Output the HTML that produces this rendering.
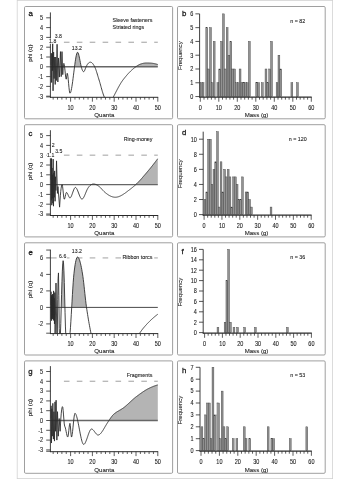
<!DOCTYPE html>
<html lang="en">
<head>
<meta charset="utf-8">
<title>Quantograms and mass histograms</title>
<style>
html,body{margin:0;padding:0;background:#fff;}
body{width:350px;height:480px;overflow:hidden;}
svg text{font-family:"Liberation Sans", Arial, sans-serif;}
</style>
</head>
<body>
<svg width="350" height="480" viewBox="0 0 350 480" font-family='"Liberation Sans", Arial, sans-serif' style="display:block">
<rect x="17.2" y="0.4" width="315.4" height="478.2" fill="#fefefe" stroke="#d2d2d2" stroke-width="0.8"/>
<rect x="24.5" y="6.5" width="148.1" height="112.3" rx="1.2" fill="#fff" stroke="#949494" stroke-width="0.9"/>
<rect x="177.5" y="6.5" width="147.7" height="112.3" rx="1.2" fill="#fff" stroke="#949494" stroke-width="0.9"/>
<rect x="24.5" y="124.7" width="148.1" height="112.2" rx="1.2" fill="#fff" stroke="#949494" stroke-width="0.9"/>
<rect x="177.5" y="124.7" width="147.7" height="112.2" rx="1.2" fill="#fff" stroke="#949494" stroke-width="0.9"/>
<rect x="24.5" y="242.8" width="148.1" height="112.2" rx="1.2" fill="#fff" stroke="#949494" stroke-width="0.9"/>
<rect x="177.5" y="242.8" width="147.7" height="112.2" rx="1.2" fill="#fff" stroke="#949494" stroke-width="0.9"/>
<rect x="24.5" y="360.9" width="148.1" height="112.4" rx="1.2" fill="#fff" stroke="#949494" stroke-width="0.9"/>
<rect x="177.5" y="360.9" width="147.7" height="112.4" rx="1.2" fill="#fff" stroke="#949494" stroke-width="0.9"/>
<clipPath id="clipa"><rect x="50.4" y="6.5" width="107.8" height="90.8"/></clipPath>
<line x1="63.9" y1="42.3" x2="69.5" y2="42.3" stroke="#b9b9b9" stroke-width="1.35"/>
<line x1="76.8" y1="42.3" x2="82.4" y2="42.3" stroke="#b9b9b9" stroke-width="1.35"/>
<line x1="89.7" y1="42.3" x2="95.3" y2="42.3" stroke="#b9b9b9" stroke-width="1.35"/>
<line x1="102.6" y1="42.3" x2="108.2" y2="42.3" stroke="#b9b9b9" stroke-width="1.35"/>
<line x1="115.5" y1="42.3" x2="121.1" y2="42.3" stroke="#b9b9b9" stroke-width="1.35"/>
<line x1="128.4" y1="42.3" x2="134" y2="42.3" stroke="#b9b9b9" stroke-width="1.35"/>
<line x1="141.3" y1="42.3" x2="146.9" y2="42.3" stroke="#b9b9b9" stroke-width="1.35"/>
<line x1="154.2" y1="42.3" x2="157.8" y2="42.3" stroke="#b9b9b9" stroke-width="1.35"/>
<path d="M74.86 66.8 L74.86 64.23 L75.23 61.59 L75.6 59.18 L75.96 57.04 L76.33 55.23 L76.7 53.81 L77.06 52.83 L77.43 52.34 L77.8 52.4 L78.17 52.97 L78.53 53.97 L78.9 55.33 L79.27 56.94 L79.63 58.74 L80 60.63 L80.37 62.54 L80.73 64.38 L81.1 66.05 L81.1 66.8 Z" fill="#b4b4b4" stroke="none" clip-path="url(#clipa)"/>
<path d="M136.15 66.8 L136.15 66.54 L136.52 66.29 L136.88 66.04 L137.25 65.79 L137.62 65.56 L137.98 65.33 L138.35 65.11 L138.72 64.91 L139.08 64.71 L139.45 64.53 L139.82 64.37 L140.18 64.22 L140.55 64.09 L140.92 63.96 L141.29 63.84 L141.65 63.73 L142.02 63.63 L142.39 63.53 L142.75 63.44 L143.12 63.36 L143.49 63.29 L143.85 63.22 L144.22 63.16 L144.59 63.11 L144.96 63.07 L145.32 63.03 L145.69 63.01 L146.06 62.99 L146.42 62.98 L146.79 62.98 L147.16 62.98 L147.52 62.98 L147.89 62.99 L148.26 63 L148.63 63.01 L148.99 63.02 L149.36 63.04 L149.73 63.05 L150.09 63.08 L150.46 63.1 L150.83 63.13 L151.19 63.16 L151.56 63.2 L151.93 63.24 L152.3 63.28 L152.66 63.33 L153.03 63.38 L153.4 63.44 L153.76 63.5 L154.13 63.57 L154.5 63.64 L154.86 63.72 L155.23 63.8 L155.6 63.89 L155.97 63.98 L156.33 64.08 L156.7 64.19 L157.07 64.3 L157.43 64.42 L157.8 64.55 L157.8 66.8 Z" fill="#b4b4b4" stroke="none" clip-path="url(#clipa)"/>
<line x1="50.4" y1="66.8" x2="157.8" y2="66.8" stroke="#666666" stroke-width="1.45"/>
<path d="M50.87 64.84 L51.2 53.08 L51.63 82.48 L52.07 54.06 L52.33 70.72 L52.68 43.28 L53.05 90.81 L53.6 52.1 L54.14 78.56 L54.69 57 L55.23 84.44 L55.78 57 L56.32 80.52 L57.08 44.26 L57.85 81.99 L58.5 57.98 L58.94 66.8 L59.37 77.09 L60.46 51.61 L61.23 76.6 L61.99 51.61 L62.75 74.64 L62.75 74.64 L63.12 68.62 L63.49 64.71 L63.85 63.37 L64.22 64.3 L64.59 66.69 L64.95 70.09 L65.32 73.86 L65.69 77.18 L66.05 79.24 L66.42 78.96 L66.79 75.79 L67.16 73.25 L67.52 73.85 L67.89 76.21 L68.26 79.67 L68.62 83.66 L68.99 87.58 L69.36 90.85 L69.72 92.88 L70.09 93.22 L70.46 92.74 L70.83 91.77 L71.19 90.36 L71.56 88.58 L71.93 86.47 L72.29 84.08 L72.66 81.48 L73.03 78.7 L73.39 75.82 L73.76 72.88 L74.13 69.93 L74.5 67.02 L74.86 64.23 L75.23 61.59 L75.6 59.18 L75.96 57.04 L76.33 55.23 L76.7 53.81 L77.06 52.83 L77.43 52.34 L77.8 52.4 L78.17 52.97 L78.53 53.97 L78.9 55.33 L79.27 56.94 L79.63 58.74 L80 60.63 L80.37 62.54 L80.73 64.38 L81.1 66.05 L81.47 67.51 L81.83 68.75 L82.2 69.79 L82.57 70.61 L82.94 71.2 L83.3 71.57 L83.67 71.7 L84.04 71.5 L84.4 70.96 L84.77 70.16 L85.14 69.22 L85.5 68.22 L85.87 67.27 L86.24 66.46 L86.61 65.74 L86.97 65.08 L87.34 64.49 L87.71 63.97 L88.07 63.52 L88.44 63.14 L88.81 62.82 L89.17 62.57 L89.54 62.38 L89.91 62.26 L90.28 62.2 L90.64 62.21 L91.01 62.29 L91.38 62.45 L91.74 62.68 L92.11 62.98 L92.48 63.34 L92.84 63.77 L93.21 64.27 L93.58 64.82 L93.95 65.42 L94.31 66.08 L94.68 66.78 L95.05 67.56 L95.41 68.45 L95.78 69.43 L96.15 70.49 L96.51 71.6 L96.88 72.77 L97.25 73.97 L97.62 75.19 L97.98 76.41 L98.35 77.63 L98.72 78.83 L99.08 80 L99.45 81.2 L99.82 82.45 L100.18 83.74 L100.55 85.05 L100.92 86.38 L101.28 87.7 L101.65 89.01 L102.02 90.3 L102.39 91.55 L102.75 92.75 L103.12 93.89 L103.49 94.96 L103.85 95.95 L104.22 96.85 L104.59 97.72 L104.95 98.53 L105.32 99.3 L105.69 100 L106.06 100.65 L106.42 101.23 L106.79 101.74 L107.16 102.17 L107.52 102.53 L107.89 102.79 L108.26 102.97 L108.62 103.05 L108.99 103.03 L109.36 102.9 L109.73 102.67 L110.09 102.35 L110.46 101.94 L110.83 101.46 L111.19 100.92 L111.56 100.33 L111.93 99.69 L112.29 99.02 L112.66 98.33 L113.03 97.62 L113.4 96.91 L113.76 96.2 L114.13 95.5 L114.5 94.8 L114.86 94.09 L115.23 93.38 L115.6 92.67 L115.96 91.96 L116.33 91.25 L116.7 90.55 L117.07 89.84 L117.43 89.15 L117.8 88.46 L118.17 87.77 L118.53 87.1 L118.9 86.43 L119.27 85.77 L119.63 85.13 L120 84.49 L120.37 83.87 L120.73 83.27 L121.1 82.68 L121.47 82.11 L121.84 81.55 L122.2 81.02 L122.57 80.5 L122.94 80.01 L123.3 79.53 L123.67 79.05 L124.04 78.58 L124.4 78.12 L124.77 77.66 L125.14 77.2 L125.51 76.76 L125.87 76.32 L126.24 75.88 L126.61 75.45 L126.97 75.03 L127.34 74.61 L127.71 74.2 L128.07 73.79 L128.44 73.39 L128.81 73 L129.18 72.62 L129.54 72.24 L129.91 71.86 L130.28 71.49 L130.64 71.13 L131.01 70.78 L131.38 70.43 L131.74 70.09 L132.11 69.76 L132.48 69.43 L132.85 69.11 L133.21 68.8 L133.58 68.49 L133.95 68.19 L134.31 67.9 L134.68 67.61 L135.05 67.34 L135.41 67.06 L135.78 66.8 L136.15 66.54 L136.52 66.29 L136.88 66.04 L137.25 65.79 L137.62 65.56 L137.98 65.33 L138.35 65.11 L138.72 64.91 L139.08 64.71 L139.45 64.53 L139.82 64.37 L140.18 64.22 L140.55 64.09 L140.92 63.96 L141.29 63.84 L141.65 63.73 L142.02 63.63 L142.39 63.53 L142.75 63.44 L143.12 63.36 L143.49 63.29 L143.85 63.22 L144.22 63.16 L144.59 63.11 L144.96 63.07 L145.32 63.03 L145.69 63.01 L146.06 62.99 L146.42 62.98 L146.79 62.98 L147.16 62.98 L147.52 62.98 L147.89 62.99 L148.26 63 L148.63 63.01 L148.99 63.02 L149.36 63.04 L149.73 63.05 L150.09 63.08 L150.46 63.1 L150.83 63.13 L151.19 63.16 L151.56 63.2 L151.93 63.24 L152.3 63.28 L152.66 63.33 L153.03 63.38 L153.4 63.44 L153.76 63.5 L154.13 63.57 L154.5 63.64 L154.86 63.72 L155.23 63.8 L155.6 63.89 L155.97 63.98 L156.33 64.08 L156.7 64.19 L157.07 64.3 L157.43 64.42 L157.8 64.55" fill="none" stroke="#2b2b2b" stroke-width="0.88" stroke-linejoin="round" clip-path="url(#clipa)"/>
<line x1="50.4" y1="12.41" x2="50.4" y2="97.7" stroke="#2a2a2a" stroke-width="0.9"/>
<line x1="46.2" y1="17.8" x2="50.4" y2="17.8" stroke="#2a2a2a" stroke-width="0.8"/>
<text transform="translate(43.1 20.1) scale(0.85 1)" font-size="6.47" text-anchor="end" fill="#222" stroke="#222" stroke-width="0.1">5</text>
<line x1="46.2" y1="27.6" x2="50.4" y2="27.6" stroke="#2a2a2a" stroke-width="0.8"/>
<text transform="translate(43.1 29.9) scale(0.85 1)" font-size="6.47" text-anchor="end" fill="#222" stroke="#222" stroke-width="0.1">4</text>
<line x1="46.2" y1="37.4" x2="50.4" y2="37.4" stroke="#2a2a2a" stroke-width="0.8"/>
<text transform="translate(43.1 39.7) scale(0.85 1)" font-size="6.47" text-anchor="end" fill="#222" stroke="#222" stroke-width="0.1">3</text>
<line x1="46.2" y1="47.2" x2="50.4" y2="47.2" stroke="#2a2a2a" stroke-width="0.8"/>
<text transform="translate(43.1 49.5) scale(0.85 1)" font-size="6.47" text-anchor="end" fill="#222" stroke="#222" stroke-width="0.1">2</text>
<line x1="46.2" y1="57" x2="50.4" y2="57" stroke="#2a2a2a" stroke-width="0.8"/>
<text transform="translate(43.1 59.3) scale(0.85 1)" font-size="6.47" text-anchor="end" fill="#222" stroke="#222" stroke-width="0.1">1</text>
<line x1="46.2" y1="66.8" x2="50.4" y2="66.8" stroke="#2a2a2a" stroke-width="0.8"/>
<text transform="translate(43.1 69.1) scale(0.85 1)" font-size="6.47" text-anchor="end" fill="#222" stroke="#222" stroke-width="0.1">0</text>
<line x1="46.2" y1="76.6" x2="50.4" y2="76.6" stroke="#2a2a2a" stroke-width="0.8"/>
<text transform="translate(43.1 78.9) scale(0.85 1)" font-size="6.47" text-anchor="end" fill="#222" stroke="#222" stroke-width="0.1">-1</text>
<line x1="46.2" y1="86.4" x2="50.4" y2="86.4" stroke="#2a2a2a" stroke-width="0.8"/>
<text transform="translate(43.1 88.7) scale(0.85 1)" font-size="6.47" text-anchor="end" fill="#222" stroke="#222" stroke-width="0.1">-2</text>
<line x1="46.2" y1="96.2" x2="50.4" y2="96.2" stroke="#2a2a2a" stroke-width="0.8"/>
<text transform="translate(43.1 98.5) scale(0.85 1)" font-size="6.47" text-anchor="end" fill="#222" stroke="#222" stroke-width="0.1">-3</text>
<line x1="46.2" y1="96.9" x2="50.4" y2="96.9" stroke="#2a2a2a" stroke-width="0.8"/>
<line x1="50" y1="97.3" x2="158.2" y2="97.3" stroke="#2a2a2a" stroke-width="1"/>
<line x1="53.16" y1="97.3" x2="53.16" y2="99.6" stroke="#2a2a2a" stroke-width="0.75"/>
<line x1="57.52" y1="97.3" x2="57.52" y2="99.6" stroke="#2a2a2a" stroke-width="0.75"/>
<line x1="61.88" y1="97.3" x2="61.88" y2="99.6" stroke="#2a2a2a" stroke-width="0.75"/>
<line x1="66.24" y1="97.3" x2="66.24" y2="99.6" stroke="#2a2a2a" stroke-width="0.75"/>
<line x1="70.6" y1="97.3" x2="70.6" y2="101.7" stroke="#2a2a2a" stroke-width="0.75"/>
<text transform="translate(70.6 109.6) scale(0.85 1)" font-size="6.47" text-anchor="middle" fill="#222" stroke="#222" stroke-width="0.1">10</text>
<line x1="74.96" y1="97.3" x2="74.96" y2="99.6" stroke="#2a2a2a" stroke-width="0.75"/>
<line x1="79.32" y1="97.3" x2="79.32" y2="99.6" stroke="#2a2a2a" stroke-width="0.75"/>
<line x1="83.68" y1="97.3" x2="83.68" y2="99.6" stroke="#2a2a2a" stroke-width="0.75"/>
<line x1="88.04" y1="97.3" x2="88.04" y2="99.6" stroke="#2a2a2a" stroke-width="0.75"/>
<line x1="92.4" y1="97.3" x2="92.4" y2="101.7" stroke="#2a2a2a" stroke-width="0.75"/>
<text transform="translate(92.4 109.6) scale(0.85 1)" font-size="6.47" text-anchor="middle" fill="#222" stroke="#222" stroke-width="0.1">20</text>
<line x1="96.76" y1="97.3" x2="96.76" y2="99.6" stroke="#2a2a2a" stroke-width="0.75"/>
<line x1="101.12" y1="97.3" x2="101.12" y2="99.6" stroke="#2a2a2a" stroke-width="0.75"/>
<line x1="105.48" y1="97.3" x2="105.48" y2="99.6" stroke="#2a2a2a" stroke-width="0.75"/>
<line x1="109.84" y1="97.3" x2="109.84" y2="99.6" stroke="#2a2a2a" stroke-width="0.75"/>
<line x1="114.2" y1="97.3" x2="114.2" y2="101.7" stroke="#2a2a2a" stroke-width="0.75"/>
<text transform="translate(114.2 109.6) scale(0.85 1)" font-size="6.47" text-anchor="middle" fill="#222" stroke="#222" stroke-width="0.1">30</text>
<line x1="118.56" y1="97.3" x2="118.56" y2="99.6" stroke="#2a2a2a" stroke-width="0.75"/>
<line x1="122.92" y1="97.3" x2="122.92" y2="99.6" stroke="#2a2a2a" stroke-width="0.75"/>
<line x1="127.28" y1="97.3" x2="127.28" y2="99.6" stroke="#2a2a2a" stroke-width="0.75"/>
<line x1="131.64" y1="97.3" x2="131.64" y2="99.6" stroke="#2a2a2a" stroke-width="0.75"/>
<line x1="136" y1="97.3" x2="136" y2="101.7" stroke="#2a2a2a" stroke-width="0.75"/>
<text transform="translate(136 109.6) scale(0.85 1)" font-size="6.47" text-anchor="middle" fill="#222" stroke="#222" stroke-width="0.1">40</text>
<line x1="140.36" y1="97.3" x2="140.36" y2="99.6" stroke="#2a2a2a" stroke-width="0.75"/>
<line x1="144.72" y1="97.3" x2="144.72" y2="99.6" stroke="#2a2a2a" stroke-width="0.75"/>
<line x1="149.08" y1="97.3" x2="149.08" y2="99.6" stroke="#2a2a2a" stroke-width="0.75"/>
<line x1="153.44" y1="97.3" x2="153.44" y2="99.6" stroke="#2a2a2a" stroke-width="0.75"/>
<line x1="157.8" y1="97.3" x2="157.8" y2="101.7" stroke="#2a2a2a" stroke-width="0.75"/>
<text transform="translate(157.8 109.6) scale(0.85 1)" font-size="6.47" text-anchor="middle" fill="#222" stroke="#222" stroke-width="0.1">50</text>
<text x="104.3" y="117.1" font-size="6.1" text-anchor="middle" fill="#222" stroke="#222" stroke-width="0.1">Quanta</text>
<text transform="translate(31.7 53.1) rotate(-90)" font-size="6.1" text-anchor="middle" fill="#222" stroke="#222" stroke-width="0.1">phi (q)</text>
<text x="28.6" y="16.3" font-size="7.8" text-anchor="start" fill="#1c1c1c" stroke="#1c1c1c" stroke-width="0.3">a</text>
<text transform="translate(112.6 22.4) scale(0.92 1)" font-size="5.82" text-anchor="start" fill="#222" stroke="#222" stroke-width="0.1">Sleeve fasteners</text>
<text transform="translate(112.6 28.6) scale(0.92 1)" font-size="5.82" text-anchor="start" fill="#222" stroke="#222" stroke-width="0.1">Striated rings</text>
<rect x="48.54" y="38.5" width="8.33" height="5.2" fill="#fff"/>
<text transform="translate(52.7 42.8) scale(0.85 1)" font-size="6.06" text-anchor="middle" fill="#222" stroke="#222" stroke-width="0.1">1.8</text>
<rect x="54.14" y="34" width="8.33" height="5.2" fill="#fff"/>
<text transform="translate(58.3 38.3) scale(0.85 1)" font-size="6.06" text-anchor="middle" fill="#222" stroke="#222" stroke-width="0.1">3.8</text>
<rect x="71.35" y="45.5" width="10.9" height="5.2" fill="#fff"/>
<text transform="translate(76.8 49.8) scale(0.85 1)" font-size="6.06" text-anchor="middle" fill="#222" stroke="#222" stroke-width="0.1">13.2</text>
<clipPath id="clipc"><rect x="50.4" y="124.7" width="107.8" height="90.8"/></clipPath>
<line x1="63.9" y1="155.2" x2="69.5" y2="155.2" stroke="#b9b9b9" stroke-width="1.35"/>
<line x1="76.8" y1="155.2" x2="82.4" y2="155.2" stroke="#b9b9b9" stroke-width="1.35"/>
<line x1="89.7" y1="155.2" x2="95.3" y2="155.2" stroke="#b9b9b9" stroke-width="1.35"/>
<line x1="102.6" y1="155.2" x2="108.2" y2="155.2" stroke="#b9b9b9" stroke-width="1.35"/>
<line x1="115.5" y1="155.2" x2="121.1" y2="155.2" stroke="#b9b9b9" stroke-width="1.35"/>
<line x1="128.4" y1="155.2" x2="134" y2="155.2" stroke="#b9b9b9" stroke-width="1.35"/>
<line x1="141.3" y1="155.2" x2="146.9" y2="155.2" stroke="#b9b9b9" stroke-width="1.35"/>
<line x1="154.2" y1="155.2" x2="157.8" y2="155.2" stroke="#b9b9b9" stroke-width="1.35"/>
<path d="M135.81 184.6 L135.81 184.58 L136.19 184.22 L136.57 183.86 L136.94 183.49 L137.32 183.12 L137.7 182.74 L138.08 182.35 L138.46 181.96 L138.84 181.56 L139.22 181.16 L139.6 180.75 L139.98 180.34 L140.36 179.92 L140.74 179.5 L141.12 179.08 L141.5 178.65 L141.87 178.22 L142.25 177.79 L142.63 177.35 L143.01 176.91 L143.39 176.47 L143.77 176.03 L144.15 175.59 L144.53 175.14 L144.91 174.7 L145.29 174.25 L145.67 173.8 L146.05 173.36 L146.42 172.91 L146.8 172.46 L147.18 172.02 L147.56 171.57 L147.94 171.12 L148.32 170.66 L148.7 170.21 L149.08 169.75 L149.46 169.29 L149.84 168.83 L150.22 168.36 L150.6 167.9 L150.97 167.43 L151.35 166.96 L151.73 166.48 L152.11 166.01 L152.49 165.53 L152.87 165.05 L153.25 164.57 L153.63 164.09 L154.01 163.6 L154.39 163.11 L154.77 162.62 L155.15 162.13 L155.52 161.64 L155.9 161.14 L156.28 160.64 L156.66 160.14 L157.04 159.64 L157.42 159.14 L157.8 158.63 L157.8 184.6 Z" fill="#b4b4b4" stroke="none" clip-path="url(#clipc)"/>
<line x1="50.4" y1="184.6" x2="157.8" y2="184.6" stroke="#666666" stroke-width="1.45"/>
<path d="M50.87 179.7 L51.05 158.14 L51.29 200.28 L51.52 157.65 L51.81 205.18 L52.07 167.94 L52.33 198.32 L52.61 174.8 L52.88 203.22 L53.16 159.12 L53.51 206.16 L53.86 172.84 L54.25 197.34 L54.64 170.88 L55.08 201.26 L55.51 176.76 L55.88 190.48 L56.54 160.88 L57.41 193.42 L57.96 186.56 L59.59 207.14 L59.59 207.14 L59.97 200.99 L60.35 195.78 L60.73 191.52 L61.11 188.25 L61.49 186 L61.87 184.8 L62.25 184.79 L62.62 186.76 L63 190.1 L63.38 193.9 L63.76 197.22 L64.14 199.13 L64.52 199.06 L64.9 197.94 L65.28 196.29 L65.66 194.53 L66.04 193.11 L66.42 192.45 L66.8 192.58 L67.17 193.04 L67.55 193.72 L67.93 194.55 L68.31 195.44 L68.69 196.31 L69.07 197.06 L69.45 197.63 L69.83 197.91 L70.21 197.86 L70.59 197.53 L70.97 196.96 L71.35 196.21 L71.72 195.31 L72.1 194.3 L72.48 193.23 L72.86 192.13 L73.24 191.06 L73.62 190.05 L74 189.15 L74.38 188.4 L74.76 187.84 L75.14 187.51 L75.52 187.45 L75.9 187.64 L76.28 188.02 L76.65 188.57 L77.03 189.27 L77.41 190.08 L77.79 190.99 L78.17 191.96 L78.55 192.96 L78.93 193.98 L79.31 194.97 L79.69 195.92 L80.07 196.79 L80.45 197.56 L80.83 198.21 L81.2 198.7 L81.58 199.01 L81.96 199.1 L82.34 199 L82.72 198.73 L83.1 198.3 L83.48 197.75 L83.86 197.08 L84.24 196.33 L84.62 195.5 L85 194.62 L85.38 193.71 L85.75 192.78 L86.13 191.86 L86.51 190.96 L86.89 190.11 L87.27 189.32 L87.65 188.61 L88.03 188 L88.41 187.44 L88.79 186.92 L89.17 186.45 L89.55 186.03 L89.93 185.64 L90.31 185.31 L90.68 185.01 L91.06 184.75 L91.44 184.53 L91.82 184.36 L92.2 184.22 L92.58 184.11 L92.96 184.05 L93.34 184.01 L93.72 184.02 L94.1 184.05 L94.48 184.1 L94.86 184.18 L95.23 184.28 L95.61 184.41 L95.99 184.56 L96.37 184.73 L96.75 184.91 L97.13 185.12 L97.51 185.35 L97.89 185.59 L98.27 185.85 L98.65 186.12 L99.03 186.41 L99.41 186.71 L99.78 187.03 L100.16 187.36 L100.54 187.73 L100.92 188.13 L101.3 188.54 L101.68 188.97 L102.06 189.4 L102.44 189.84 L102.82 190.27 L103.2 190.68 L103.58 191.08 L103.96 191.46 L104.33 191.8 L104.71 192.13 L105.09 192.46 L105.47 192.78 L105.85 193.09 L106.23 193.39 L106.61 193.68 L106.99 193.96 L107.37 194.23 L107.75 194.49 L108.13 194.75 L108.51 194.99 L108.89 195.22 L109.26 195.44 L109.64 195.65 L110.02 195.85 L110.4 196.03 L110.78 196.21 L111.16 196.37 L111.54 196.52 L111.92 196.65 L112.3 196.77 L112.68 196.88 L113.06 196.98 L113.44 197.06 L113.81 197.13 L114.19 197.18 L114.57 197.21 L114.95 197.24 L115.33 197.24 L115.71 197.23 L116.09 197.21 L116.47 197.17 L116.85 197.11 L117.23 197.04 L117.61 196.95 L117.99 196.86 L118.36 196.75 L118.74 196.62 L119.12 196.49 L119.5 196.34 L119.88 196.18 L120.26 196.01 L120.64 195.83 L121.02 195.64 L121.4 195.44 L121.78 195.23 L122.16 195.01 L122.54 194.79 L122.91 194.55 L123.29 194.31 L123.67 194.06 L124.05 193.81 L124.43 193.55 L124.81 193.29 L125.19 193.02 L125.57 192.74 L125.95 192.46 L126.33 192.18 L126.71 191.9 L127.09 191.61 L127.47 191.32 L127.84 191.03 L128.22 190.74 L128.6 190.45 L128.98 190.16 L129.36 189.88 L129.74 189.59 L130.12 189.3 L130.5 189 L130.88 188.71 L131.26 188.41 L131.64 188.12 L132.02 187.82 L132.39 187.51 L132.77 187.2 L133.15 186.89 L133.53 186.58 L133.91 186.26 L134.29 185.93 L134.67 185.6 L135.05 185.27 L135.43 184.92 L135.81 184.58 L136.19 184.22 L136.57 183.86 L136.94 183.49 L137.32 183.12 L137.7 182.74 L138.08 182.35 L138.46 181.96 L138.84 181.56 L139.22 181.16 L139.6 180.75 L139.98 180.34 L140.36 179.92 L140.74 179.5 L141.12 179.08 L141.5 178.65 L141.87 178.22 L142.25 177.79 L142.63 177.35 L143.01 176.91 L143.39 176.47 L143.77 176.03 L144.15 175.59 L144.53 175.14 L144.91 174.7 L145.29 174.25 L145.67 173.8 L146.05 173.36 L146.42 172.91 L146.8 172.46 L147.18 172.02 L147.56 171.57 L147.94 171.12 L148.32 170.66 L148.7 170.21 L149.08 169.75 L149.46 169.29 L149.84 168.83 L150.22 168.36 L150.6 167.9 L150.97 167.43 L151.35 166.96 L151.73 166.48 L152.11 166.01 L152.49 165.53 L152.87 165.05 L153.25 164.57 L153.63 164.09 L154.01 163.6 L154.39 163.11 L154.77 162.62 L155.15 162.13 L155.52 161.64 L155.9 161.14 L156.28 160.64 L156.66 160.14 L157.04 159.64 L157.42 159.14 L157.8 158.63" fill="none" stroke="#2b2b2b" stroke-width="0.88" stroke-linejoin="round" clip-path="url(#clipc)"/>
<line x1="50.4" y1="130.21" x2="50.4" y2="215.9" stroke="#2a2a2a" stroke-width="0.9"/>
<line x1="46.2" y1="135.6" x2="50.4" y2="135.6" stroke="#2a2a2a" stroke-width="0.8"/>
<text transform="translate(43.1 137.9) scale(0.85 1)" font-size="6.47" text-anchor="end" fill="#222" stroke="#222" stroke-width="0.1">5</text>
<line x1="46.2" y1="145.4" x2="50.4" y2="145.4" stroke="#2a2a2a" stroke-width="0.8"/>
<text transform="translate(43.1 147.7) scale(0.85 1)" font-size="6.47" text-anchor="end" fill="#222" stroke="#222" stroke-width="0.1">4</text>
<line x1="46.2" y1="155.2" x2="50.4" y2="155.2" stroke="#2a2a2a" stroke-width="0.8"/>
<text transform="translate(43.1 157.5) scale(0.85 1)" font-size="6.47" text-anchor="end" fill="#222" stroke="#222" stroke-width="0.1">3</text>
<line x1="46.2" y1="165" x2="50.4" y2="165" stroke="#2a2a2a" stroke-width="0.8"/>
<text transform="translate(43.1 167.3) scale(0.85 1)" font-size="6.47" text-anchor="end" fill="#222" stroke="#222" stroke-width="0.1">2</text>
<line x1="46.2" y1="174.8" x2="50.4" y2="174.8" stroke="#2a2a2a" stroke-width="0.8"/>
<text transform="translate(43.1 177.1) scale(0.85 1)" font-size="6.47" text-anchor="end" fill="#222" stroke="#222" stroke-width="0.1">1</text>
<line x1="46.2" y1="184.6" x2="50.4" y2="184.6" stroke="#2a2a2a" stroke-width="0.8"/>
<text transform="translate(43.1 186.9) scale(0.85 1)" font-size="6.47" text-anchor="end" fill="#222" stroke="#222" stroke-width="0.1">0</text>
<line x1="46.2" y1="194.4" x2="50.4" y2="194.4" stroke="#2a2a2a" stroke-width="0.8"/>
<text transform="translate(43.1 196.7) scale(0.85 1)" font-size="6.47" text-anchor="end" fill="#222" stroke="#222" stroke-width="0.1">-1</text>
<line x1="46.2" y1="204.2" x2="50.4" y2="204.2" stroke="#2a2a2a" stroke-width="0.8"/>
<text transform="translate(43.1 206.5) scale(0.85 1)" font-size="6.47" text-anchor="end" fill="#222" stroke="#222" stroke-width="0.1">-2</text>
<line x1="46.2" y1="214" x2="50.4" y2="214" stroke="#2a2a2a" stroke-width="0.8"/>
<text transform="translate(43.1 216.3) scale(0.85 1)" font-size="6.47" text-anchor="end" fill="#222" stroke="#222" stroke-width="0.1">-3</text>
<line x1="46.2" y1="215.1" x2="50.4" y2="215.1" stroke="#2a2a2a" stroke-width="0.8"/>
<line x1="50" y1="215.5" x2="158.2" y2="215.5" stroke="#2a2a2a" stroke-width="1"/>
<line x1="53.16" y1="215.5" x2="53.16" y2="217.8" stroke="#2a2a2a" stroke-width="0.75"/>
<line x1="57.52" y1="215.5" x2="57.52" y2="217.8" stroke="#2a2a2a" stroke-width="0.75"/>
<line x1="61.88" y1="215.5" x2="61.88" y2="217.8" stroke="#2a2a2a" stroke-width="0.75"/>
<line x1="66.24" y1="215.5" x2="66.24" y2="217.8" stroke="#2a2a2a" stroke-width="0.75"/>
<line x1="70.6" y1="215.5" x2="70.6" y2="219.9" stroke="#2a2a2a" stroke-width="0.75"/>
<text transform="translate(70.6 227.8) scale(0.85 1)" font-size="6.47" text-anchor="middle" fill="#222" stroke="#222" stroke-width="0.1">10</text>
<line x1="74.96" y1="215.5" x2="74.96" y2="217.8" stroke="#2a2a2a" stroke-width="0.75"/>
<line x1="79.32" y1="215.5" x2="79.32" y2="217.8" stroke="#2a2a2a" stroke-width="0.75"/>
<line x1="83.68" y1="215.5" x2="83.68" y2="217.8" stroke="#2a2a2a" stroke-width="0.75"/>
<line x1="88.04" y1="215.5" x2="88.04" y2="217.8" stroke="#2a2a2a" stroke-width="0.75"/>
<line x1="92.4" y1="215.5" x2="92.4" y2="219.9" stroke="#2a2a2a" stroke-width="0.75"/>
<text transform="translate(92.4 227.8) scale(0.85 1)" font-size="6.47" text-anchor="middle" fill="#222" stroke="#222" stroke-width="0.1">20</text>
<line x1="96.76" y1="215.5" x2="96.76" y2="217.8" stroke="#2a2a2a" stroke-width="0.75"/>
<line x1="101.12" y1="215.5" x2="101.12" y2="217.8" stroke="#2a2a2a" stroke-width="0.75"/>
<line x1="105.48" y1="215.5" x2="105.48" y2="217.8" stroke="#2a2a2a" stroke-width="0.75"/>
<line x1="109.84" y1="215.5" x2="109.84" y2="217.8" stroke="#2a2a2a" stroke-width="0.75"/>
<line x1="114.2" y1="215.5" x2="114.2" y2="219.9" stroke="#2a2a2a" stroke-width="0.75"/>
<text transform="translate(114.2 227.8) scale(0.85 1)" font-size="6.47" text-anchor="middle" fill="#222" stroke="#222" stroke-width="0.1">30</text>
<line x1="118.56" y1="215.5" x2="118.56" y2="217.8" stroke="#2a2a2a" stroke-width="0.75"/>
<line x1="122.92" y1="215.5" x2="122.92" y2="217.8" stroke="#2a2a2a" stroke-width="0.75"/>
<line x1="127.28" y1="215.5" x2="127.28" y2="217.8" stroke="#2a2a2a" stroke-width="0.75"/>
<line x1="131.64" y1="215.5" x2="131.64" y2="217.8" stroke="#2a2a2a" stroke-width="0.75"/>
<line x1="136" y1="215.5" x2="136" y2="219.9" stroke="#2a2a2a" stroke-width="0.75"/>
<text transform="translate(136 227.8) scale(0.85 1)" font-size="6.47" text-anchor="middle" fill="#222" stroke="#222" stroke-width="0.1">40</text>
<line x1="140.36" y1="215.5" x2="140.36" y2="217.8" stroke="#2a2a2a" stroke-width="0.75"/>
<line x1="144.72" y1="215.5" x2="144.72" y2="217.8" stroke="#2a2a2a" stroke-width="0.75"/>
<line x1="149.08" y1="215.5" x2="149.08" y2="217.8" stroke="#2a2a2a" stroke-width="0.75"/>
<line x1="153.44" y1="215.5" x2="153.44" y2="217.8" stroke="#2a2a2a" stroke-width="0.75"/>
<line x1="157.8" y1="215.5" x2="157.8" y2="219.9" stroke="#2a2a2a" stroke-width="0.75"/>
<text transform="translate(157.8 227.8) scale(0.85 1)" font-size="6.47" text-anchor="middle" fill="#222" stroke="#222" stroke-width="0.1">50</text>
<text x="104.3" y="235.3" font-size="6.1" text-anchor="middle" fill="#222" stroke="#222" stroke-width="0.1">Quanta</text>
<text transform="translate(31.7 171.3) rotate(-90)" font-size="6.1" text-anchor="middle" fill="#222" stroke="#222" stroke-width="0.1">phi (q)</text>
<text x="28.6" y="135.8" font-size="7.8" text-anchor="start" fill="#1c1c1c" stroke="#1c1c1c" stroke-width="0.3">c</text>
<text transform="translate(123.7 140.5) scale(0.92 1)" font-size="5.82" text-anchor="start" fill="#222" stroke="#222" stroke-width="0.1">Ring-money</text>
<rect x="51.61" y="143.1" width="3.18" height="5.2" fill="#fff"/>
<text transform="translate(53.2 147.4) scale(0.85 1)" font-size="6.06" text-anchor="middle" fill="#222" stroke="#222" stroke-width="0.1">2</text>
<rect x="46.54" y="153.1" width="8.33" height="5.2" fill="#fff"/>
<text transform="translate(50.7 157.4) scale(0.85 1)" font-size="6.06" text-anchor="middle" fill="#222" stroke="#222" stroke-width="0.1">1.1</text>
<rect x="54.64" y="148.8" width="8.33" height="5.2" fill="#fff"/>
<text transform="translate(58.8 153.1) scale(0.85 1)" font-size="6.06" text-anchor="middle" fill="#222" stroke="#222" stroke-width="0.1">3.5</text>
<clipPath id="clipe"><rect x="50.4" y="242.8" width="107.8" height="90.8"/></clipPath>
<line x1="51" y1="257.9" x2="56.6" y2="257.9" stroke="#b9b9b9" stroke-width="1.35"/>
<line x1="63.9" y1="257.9" x2="69.5" y2="257.9" stroke="#b9b9b9" stroke-width="1.35"/>
<line x1="76.8" y1="257.9" x2="82.4" y2="257.9" stroke="#b9b9b9" stroke-width="1.35"/>
<line x1="89.7" y1="257.9" x2="95.3" y2="257.9" stroke="#b9b9b9" stroke-width="1.35"/>
<line x1="102.6" y1="257.9" x2="108.2" y2="257.9" stroke="#b9b9b9" stroke-width="1.35"/>
<line x1="115.5" y1="257.9" x2="121.1" y2="257.9" stroke="#b9b9b9" stroke-width="1.35"/>
<line x1="128.4" y1="257.9" x2="134" y2="257.9" stroke="#b9b9b9" stroke-width="1.35"/>
<line x1="141.3" y1="257.9" x2="146.9" y2="257.9" stroke="#b9b9b9" stroke-width="1.35"/>
<line x1="154.2" y1="257.9" x2="157.8" y2="257.9" stroke="#b9b9b9" stroke-width="1.35"/>
<path d="M61.57 307.4 L61.57 294.6 L61.96 281.67 L62.35 271.15 L62.73 263.87 L63.12 260.69 L63.51 262.86 L63.9 270.63 L64.29 282.53 L64.67 297.05 L64.67 307.4 Z" fill="#b4b4b4" stroke="none" clip-path="url(#clipe)"/>
<path d="M72.05 307.4 L72.05 301.24 L72.43 294.54 L72.82 288.11 L73.21 282.26 L73.6 277.24 L73.99 273.32 L74.38 270 L74.76 267.05 L75.15 264.49 L75.54 262.31 L75.93 260.5 L76.32 259.08 L76.7 258.03 L77.09 257.37 L77.48 257.09 L77.87 257.14 L78.26 257.45 L78.64 257.98 L79.03 258.74 L79.42 259.71 L79.81 260.88 L80.2 262.25 L80.58 263.8 L80.97 265.53 L81.36 267.42 L81.75 269.46 L82.14 271.66 L82.52 273.99 L82.91 276.55 L83.3 279.49 L83.69 282.73 L84.08 286.18 L84.46 289.76 L84.85 293.38 L85.24 296.97 L85.63 300.42 L86.02 303.67 L86.4 306.63 L86.4 307.4 Z" fill="#b4b4b4" stroke="none" clip-path="url(#clipe)"/>
<line x1="50.4" y1="307.4" x2="157.8" y2="307.4" stroke="#333" stroke-width="0.9"/>
<path d="M50.87 304.92 L51.02 291.72 L51.2 318.95 L51.37 296.67 L51.55 320.6 L51.74 295.02 L51.94 317.3 L52.16 299.15 L52.38 318.95 L52.59 294.2 L52.83 316.47 L53.07 296.67 L53.33 319.77 L53.6 290.9 L53.88 320.6 L54.16 298.32 L54.47 323.9 L54.79 292.55 L55.12 335.45 L55.99 283.06 L56.87 337.1 L57.3 337.1 L57.3 337.1 L57.69 299.79 L58.08 278.79 L58.47 272.91 L58.85 295.4 L59.24 328.5 L59.63 337.1 L60.02 337.1 L60.41 334.46 L60.79 323.73 L61.18 309.09 L61.57 294.6 L61.96 281.67 L62.35 271.15 L62.73 263.87 L63.12 260.69 L63.51 262.86 L63.9 270.63 L64.29 282.53 L64.67 297.05 L65.06 312.68 L65.45 326.95 L65.84 335.9 L66.23 337.1 L66.61 337.1 L67 337.1 L67.39 337.1 L67.78 337.1 L68.17 337.1 L68.55 337.1 L68.94 337.1 L69.33 337.09 L69.72 335.68 L70.11 332.26 L70.49 327.31 L70.88 321.29 L71.27 314.67 L71.66 307.93 L72.05 301.24 L72.43 294.54 L72.82 288.11 L73.21 282.26 L73.6 277.24 L73.99 273.32 L74.38 270 L74.76 267.05 L75.15 264.49 L75.54 262.31 L75.93 260.5 L76.32 259.08 L76.7 258.03 L77.09 257.37 L77.48 257.09 L77.87 257.14 L78.26 257.45 L78.64 257.98 L79.03 258.74 L79.42 259.71 L79.81 260.88 L80.2 262.25 L80.58 263.8 L80.97 265.53 L81.36 267.42 L81.75 269.46 L82.14 271.66 L82.52 273.99 L82.91 276.55 L83.3 279.49 L83.69 282.73 L84.08 286.18 L84.46 289.76 L84.85 293.38 L85.24 296.97 L85.63 300.42 L86.02 303.67 L86.4 306.63 L86.79 309.29 L87.18 311.86 L87.57 314.35 L87.96 316.76 L88.34 319.11 L88.73 321.38 L89.12 323.58 L89.51 325.71 L89.9 327.79 L90.28 329.8 L90.67 331.75 L91.06 333.65 L91.45 335.52 L91.84 337.41 L92.22 339.29 L92.61 341.16 L93 343.01 L93.39 344.82 L93.78 346.57 L94.16 348.26 L94.55 349.87 L94.94 351.39 L95.33 352.8 L95.72 354.1 L96.1 355.27 L96.49 356.29 L96.88 357.16 L97.27 357.97 L97.66 358.76 L98.04 359.52 L98.43 360.26 L98.82 360.98 L99.21 361.67 L99.6 362.34 L99.98 362.98 L100.37 363.61 L100.76 364.21 L101.15 364.79 L101.54 365.34 L101.92 365.88 L102.31 366.39 L102.7 366.88 L103.09 367.36 L103.48 367.81 L103.86 368.24 L104.25 368.65 L104.64 369.05 L105.03 369.42 L105.42 369.77 L105.8 370.11 L106.19 370.43 L106.58 370.73 L106.97 371.01 L107.36 371.28 L107.75 371.52 L108.13 371.75 L108.52 371.97 L108.91 372.17 L109.3 372.35 L109.69 372.51 L110.07 372.67 L110.46 372.8 L110.85 372.92 L111.24 373.03 L111.63 373.12 L112.01 373.2 L112.4 373.27 L112.79 373.32 L113.18 373.36 L113.57 373.38 L113.95 373.4 L114.34 373.4 L114.73 373.37 L115.12 373.3 L115.51 373.19 L115.89 373.05 L116.28 372.88 L116.67 372.67 L117.06 372.43 L117.45 372.16 L117.83 371.86 L118.22 371.53 L118.61 371.17 L119 370.78 L119.39 370.37 L119.77 369.93 L120.16 369.46 L120.55 368.97 L120.94 368.46 L121.33 367.93 L121.71 367.37 L122.1 366.8 L122.49 366.2 L122.88 365.58 L123.27 364.95 L123.65 364.3 L124.04 363.63 L124.43 362.95 L124.82 362.26 L125.21 361.55 L125.59 360.83 L125.98 360.09 L126.37 359.35 L126.76 358.6 L127.15 357.83 L127.53 357.06 L127.92 356.29 L128.31 355.5 L128.7 354.71 L129.09 353.92 L129.47 353.12 L129.86 352.32 L130.25 351.52 L130.64 350.72 L131.03 349.92 L131.41 349.12 L131.8 348.32 L132.19 347.51 L132.58 346.71 L132.97 345.91 L133.35 345.1 L133.74 344.3 L134.13 343.5 L134.52 342.71 L134.91 341.92 L135.29 341.14 L135.68 340.37 L136.07 339.6 L136.46 338.85 L136.85 338.11 L137.23 337.38 L137.62 336.67 L138.01 335.97 L138.4 335.29 L138.79 334.63 L139.17 333.98 L139.56 333.36 L139.95 332.76 L140.34 332.18 L140.73 331.62 L141.12 331.07 L141.5 330.54 L141.89 330.02 L142.28 329.5 L142.67 329 L143.06 328.51 L143.44 328.03 L143.83 327.55 L144.22 327.09 L144.61 326.63 L145 326.18 L145.38 325.74 L145.77 325.31 L146.16 324.88 L146.55 324.46 L146.94 324.05 L147.32 323.64 L147.71 323.23 L148.1 322.83 L148.49 322.44 L148.88 322.04 L149.26 321.65 L149.65 321.27 L150.04 320.89 L150.43 320.51 L150.82 320.14 L151.2 319.77 L151.59 319.4 L151.98 319.04 L152.37 318.69 L152.76 318.34 L153.14 317.99 L153.53 317.65 L153.92 317.31 L154.31 316.98 L154.7 316.65 L155.08 316.33 L155.47 316.02 L155.86 315.71 L156.25 315.4 L156.64 315.11 L157.02 314.81 L157.41 314.53 L157.8 314.25" fill="none" stroke="#2b2b2b" stroke-width="0.88" stroke-linejoin="round" clip-path="url(#clipe)"/>
<line x1="50.4" y1="249.65" x2="50.4" y2="334" stroke="#2a2a2a" stroke-width="0.9"/>
<line x1="46.2" y1="250.05" x2="50.4" y2="250.05" stroke="#2a2a2a" stroke-width="0.8"/>
<line x1="46.2" y1="257.9" x2="50.4" y2="257.9" stroke="#2a2a2a" stroke-width="0.8"/>
<text transform="translate(43.1 260.2) scale(0.85 1)" font-size="6.47" text-anchor="end" fill="#222" stroke="#222" stroke-width="0.1">6</text>
<line x1="46.2" y1="274.4" x2="50.4" y2="274.4" stroke="#2a2a2a" stroke-width="0.8"/>
<text transform="translate(43.1 276.7) scale(0.85 1)" font-size="6.47" text-anchor="end" fill="#222" stroke="#222" stroke-width="0.1">4</text>
<line x1="46.2" y1="290.9" x2="50.4" y2="290.9" stroke="#2a2a2a" stroke-width="0.8"/>
<text transform="translate(43.1 293.2) scale(0.85 1)" font-size="6.47" text-anchor="end" fill="#222" stroke="#222" stroke-width="0.1">2</text>
<line x1="46.2" y1="307.4" x2="50.4" y2="307.4" stroke="#2a2a2a" stroke-width="0.8"/>
<text transform="translate(43.1 309.7) scale(0.85 1)" font-size="6.47" text-anchor="end" fill="#222" stroke="#222" stroke-width="0.1">0</text>
<line x1="46.2" y1="323.9" x2="50.4" y2="323.9" stroke="#2a2a2a" stroke-width="0.8"/>
<text transform="translate(43.1 326.2) scale(0.85 1)" font-size="6.47" text-anchor="end" fill="#222" stroke="#222" stroke-width="0.1">-2</text>
<line x1="46.2" y1="333.2" x2="50.4" y2="333.2" stroke="#2a2a2a" stroke-width="0.8"/>
<line x1="50" y1="333.6" x2="158.2" y2="333.6" stroke="#2a2a2a" stroke-width="1"/>
<line x1="53.16" y1="333.6" x2="53.16" y2="335.9" stroke="#2a2a2a" stroke-width="0.75"/>
<line x1="57.52" y1="333.6" x2="57.52" y2="335.9" stroke="#2a2a2a" stroke-width="0.75"/>
<line x1="61.88" y1="333.6" x2="61.88" y2="335.9" stroke="#2a2a2a" stroke-width="0.75"/>
<line x1="66.24" y1="333.6" x2="66.24" y2="335.9" stroke="#2a2a2a" stroke-width="0.75"/>
<line x1="70.6" y1="333.6" x2="70.6" y2="338" stroke="#2a2a2a" stroke-width="0.75"/>
<text transform="translate(70.6 345.9) scale(0.85 1)" font-size="6.47" text-anchor="middle" fill="#222" stroke="#222" stroke-width="0.1">10</text>
<line x1="74.96" y1="333.6" x2="74.96" y2="335.9" stroke="#2a2a2a" stroke-width="0.75"/>
<line x1="79.32" y1="333.6" x2="79.32" y2="335.9" stroke="#2a2a2a" stroke-width="0.75"/>
<line x1="83.68" y1="333.6" x2="83.68" y2="335.9" stroke="#2a2a2a" stroke-width="0.75"/>
<line x1="88.04" y1="333.6" x2="88.04" y2="335.9" stroke="#2a2a2a" stroke-width="0.75"/>
<line x1="92.4" y1="333.6" x2="92.4" y2="338" stroke="#2a2a2a" stroke-width="0.75"/>
<text transform="translate(92.4 345.9) scale(0.85 1)" font-size="6.47" text-anchor="middle" fill="#222" stroke="#222" stroke-width="0.1">20</text>
<line x1="96.76" y1="333.6" x2="96.76" y2="335.9" stroke="#2a2a2a" stroke-width="0.75"/>
<line x1="101.12" y1="333.6" x2="101.12" y2="335.9" stroke="#2a2a2a" stroke-width="0.75"/>
<line x1="105.48" y1="333.6" x2="105.48" y2="335.9" stroke="#2a2a2a" stroke-width="0.75"/>
<line x1="109.84" y1="333.6" x2="109.84" y2="335.9" stroke="#2a2a2a" stroke-width="0.75"/>
<line x1="114.2" y1="333.6" x2="114.2" y2="338" stroke="#2a2a2a" stroke-width="0.75"/>
<text transform="translate(114.2 345.9) scale(0.85 1)" font-size="6.47" text-anchor="middle" fill="#222" stroke="#222" stroke-width="0.1">30</text>
<line x1="118.56" y1="333.6" x2="118.56" y2="335.9" stroke="#2a2a2a" stroke-width="0.75"/>
<line x1="122.92" y1="333.6" x2="122.92" y2="335.9" stroke="#2a2a2a" stroke-width="0.75"/>
<line x1="127.28" y1="333.6" x2="127.28" y2="335.9" stroke="#2a2a2a" stroke-width="0.75"/>
<line x1="131.64" y1="333.6" x2="131.64" y2="335.9" stroke="#2a2a2a" stroke-width="0.75"/>
<line x1="136" y1="333.6" x2="136" y2="338" stroke="#2a2a2a" stroke-width="0.75"/>
<text transform="translate(136 345.9) scale(0.85 1)" font-size="6.47" text-anchor="middle" fill="#222" stroke="#222" stroke-width="0.1">40</text>
<line x1="140.36" y1="333.6" x2="140.36" y2="335.9" stroke="#2a2a2a" stroke-width="0.75"/>
<line x1="144.72" y1="333.6" x2="144.72" y2="335.9" stroke="#2a2a2a" stroke-width="0.75"/>
<line x1="149.08" y1="333.6" x2="149.08" y2="335.9" stroke="#2a2a2a" stroke-width="0.75"/>
<line x1="153.44" y1="333.6" x2="153.44" y2="335.9" stroke="#2a2a2a" stroke-width="0.75"/>
<line x1="157.8" y1="333.6" x2="157.8" y2="338" stroke="#2a2a2a" stroke-width="0.75"/>
<text transform="translate(157.8 345.9) scale(0.85 1)" font-size="6.47" text-anchor="middle" fill="#222" stroke="#222" stroke-width="0.1">50</text>
<text x="104.3" y="353.4" font-size="6.1" text-anchor="middle" fill="#222" stroke="#222" stroke-width="0.1">Quanta</text>
<text transform="translate(31.7 289.4) rotate(-90)" font-size="6.1" text-anchor="middle" fill="#222" stroke="#222" stroke-width="0.1">phi (q)</text>
<text x="28.4" y="255.1" font-size="7.8" text-anchor="start" fill="#1c1c1c" stroke="#1c1c1c" stroke-width="0.3">e</text>
<rect x="121.4" y="254" width="31.5" height="6" fill="#fff"/>
<text transform="translate(122.4 258.6) scale(0.92 1)" font-size="5.82" text-anchor="start" fill="#222" stroke="#222" stroke-width="0.1">Ribbon torcs</text>
<rect x="58.54" y="253.8" width="8.33" height="5.2" fill="#fff"/>
<text transform="translate(62.7 258.1) scale(0.85 1)" font-size="6.06" text-anchor="middle" fill="#222" stroke="#222" stroke-width="0.1">6.6</text>
<rect x="71.35" y="248.8" width="10.9" height="5.2" fill="#fff"/>
<text transform="translate(76.8 253.1) scale(0.85 1)" font-size="6.06" text-anchor="middle" fill="#222" stroke="#222" stroke-width="0.1">13.2</text>
<clipPath id="clipg"><rect x="50.4" y="360.9" width="107.8" height="90.8"/></clipPath>
<line x1="63.9" y1="381.3" x2="69.5" y2="381.3" stroke="#b9b9b9" stroke-width="1.35"/>
<line x1="76.8" y1="381.3" x2="82.4" y2="381.3" stroke="#b9b9b9" stroke-width="1.35"/>
<line x1="89.7" y1="381.3" x2="95.3" y2="381.3" stroke="#b9b9b9" stroke-width="1.35"/>
<line x1="102.6" y1="381.3" x2="108.2" y2="381.3" stroke="#b9b9b9" stroke-width="1.35"/>
<line x1="115.5" y1="381.3" x2="121.1" y2="381.3" stroke="#b9b9b9" stroke-width="1.35"/>
<line x1="128.4" y1="381.3" x2="134" y2="381.3" stroke="#b9b9b9" stroke-width="1.35"/>
<line x1="141.3" y1="381.3" x2="146.9" y2="381.3" stroke="#b9b9b9" stroke-width="1.35"/>
<line x1="154.2" y1="381.3" x2="157.8" y2="381.3" stroke="#b9b9b9" stroke-width="1.35"/>
<path d="M109.16 420.5 L109.16 420.22 L109.53 419.66 L109.91 419.1 L110.29 418.53 L110.66 417.97 L111.04 417.42 L111.42 416.89 L111.8 416.38 L112.17 415.89 L112.55 415.44 L112.93 415.02 L113.3 414.64 L113.68 414.3 L114.06 413.97 L114.44 413.65 L114.81 413.35 L115.19 413.06 L115.57 412.79 L115.94 412.52 L116.32 412.27 L116.7 412.02 L117.08 411.78 L117.45 411.55 L117.83 411.32 L118.21 411.1 L118.58 410.88 L118.96 410.66 L119.34 410.44 L119.71 410.23 L120.09 410.01 L120.47 409.79 L120.85 409.57 L121.22 409.34 L121.6 409.11 L121.98 408.87 L122.35 408.62 L122.73 408.37 L123.11 408.1 L123.49 407.83 L123.86 407.54 L124.24 407.25 L124.62 406.95 L124.99 406.64 L125.37 406.33 L125.75 406.01 L126.13 405.69 L126.5 405.36 L126.88 405.02 L127.26 404.69 L127.63 404.35 L128.01 404.01 L128.39 403.66 L128.76 403.31 L129.14 402.97 L129.52 402.62 L129.9 402.27 L130.27 401.92 L130.65 401.57 L131.03 401.22 L131.4 400.87 L131.78 400.53 L132.16 400.18 L132.54 399.84 L132.91 399.5 L133.29 399.17 L133.67 398.84 L134.04 398.52 L134.42 398.19 L134.8 397.88 L135.18 397.57 L135.55 397.27 L135.93 396.97 L136.31 396.69 L136.68 396.4 L137.06 396.12 L137.44 395.84 L137.81 395.56 L138.19 395.28 L138.57 395 L138.95 394.72 L139.32 394.45 L139.7 394.17 L140.08 393.9 L140.45 393.62 L140.83 393.35 L141.21 393.08 L141.59 392.82 L141.96 392.55 L142.34 392.29 L142.72 392.04 L143.09 391.78 L143.47 391.53 L143.85 391.28 L144.23 391.03 L144.6 390.79 L144.98 390.55 L145.36 390.32 L145.73 390.09 L146.11 389.87 L146.49 389.64 L146.86 389.43 L147.24 389.22 L147.62 389.01 L148 388.81 L148.37 388.62 L148.75 388.43 L149.13 388.24 L149.5 388.06 L149.88 387.89 L150.26 387.71 L150.64 387.54 L151.01 387.38 L151.39 387.21 L151.77 387.05 L152.14 386.89 L152.52 386.74 L152.9 386.58 L153.28 386.43 L153.65 386.29 L154.03 386.15 L154.41 386.01 L154.78 385.87 L155.16 385.74 L155.54 385.61 L155.91 385.49 L156.29 385.37 L156.67 385.25 L157.05 385.14 L157.42 385.03 L157.8 384.93 L157.8 420.5 Z" fill="#b4b4b4" stroke="none" clip-path="url(#clipg)"/>
<line x1="50.4" y1="420.5" x2="157.8" y2="420.5" stroke="#666666" stroke-width="1.45"/>
<path d="M50.87 418.54 L51.09 405.8 L51.42 443.04 L51.85 408.74 L52.29 436.18 L52.83 403.35 L53.38 439.12 L53.92 411.68 L54.47 441.08 L55.01 401.88 L55.56 431.28 L56.1 400.21 L56.87 440.1 L57.52 411.68 L58.28 436.18 L59.16 418.54 L60.14 431.28 L60.14 431.28 L60.51 423.95 L60.89 417.96 L61.27 413.27 L61.64 409.85 L62.02 407.66 L62.4 406.66 L62.78 407.24 L63.15 410.34 L63.53 414.94 L63.91 419.86 L64.28 423.93 L64.66 426.08 L65.04 426.95 L65.42 428.04 L65.79 429.75 L66.17 431.66 L66.55 433.54 L66.92 435.21 L67.3 436.44 L67.68 437.04 L68.05 436.4 L68.43 434 L68.81 430.65 L69.19 427.18 L69.56 424.46 L69.94 423.34 L70.32 425.38 L70.69 430 L71.07 434.72 L71.45 437.05 L71.83 436.38 L72.2 434.38 L72.58 431.41 L72.96 427.83 L73.33 424 L73.71 420.29 L74.09 417.05 L74.47 414.64 L74.84 413.43 L75.22 413.43 L75.6 413.82 L75.97 414.51 L76.35 415.46 L76.73 416.66 L77.1 418.06 L77.48 419.64 L77.86 421.36 L78.24 423.21 L78.61 425.13 L78.99 427.12 L79.37 429.13 L79.74 431.14 L80.12 433.11 L80.5 435.02 L80.88 436.84 L81.25 438.53 L81.63 440.07 L82.01 441.42 L82.38 442.56 L82.76 443.45 L83.14 444.07 L83.52 444.38 L83.89 444.38 L84.27 444.16 L84.65 443.77 L85.02 443.21 L85.4 442.52 L85.78 441.7 L86.15 440.79 L86.53 439.79 L86.91 438.74 L87.29 437.65 L87.66 436.55 L88.04 435.44 L88.42 434.36 L88.79 433.33 L89.17 432.36 L89.55 431.47 L89.93 430.69 L90.3 430.03 L90.68 429.53 L91.06 429.19 L91.43 429.03 L91.81 429.06 L92.19 429.2 L92.56 429.43 L92.94 429.74 L93.32 430.13 L93.7 430.56 L94.07 431.04 L94.45 431.54 L94.83 432.06 L95.2 432.57 L95.58 433.07 L95.96 433.54 L96.34 433.97 L96.71 434.34 L97.09 434.64 L97.47 434.86 L97.84 434.98 L98.22 435 L98.6 434.93 L98.98 434.8 L99.35 434.6 L99.73 434.34 L100.11 434.03 L100.48 433.67 L100.86 433.26 L101.24 432.8 L101.61 432.31 L101.99 431.78 L102.37 431.23 L102.75 430.64 L103.12 430.04 L103.5 429.41 L103.88 428.78 L104.25 428.13 L104.63 427.48 L105.01 426.83 L105.39 426.19 L105.76 425.55 L106.14 424.92 L106.52 424.3 L106.89 423.69 L107.27 423.09 L107.65 422.5 L108.03 421.91 L108.4 421.34 L108.78 420.78 L109.16 420.22 L109.53 419.66 L109.91 419.1 L110.29 418.53 L110.66 417.97 L111.04 417.42 L111.42 416.89 L111.8 416.38 L112.17 415.89 L112.55 415.44 L112.93 415.02 L113.3 414.64 L113.68 414.3 L114.06 413.97 L114.44 413.65 L114.81 413.35 L115.19 413.06 L115.57 412.79 L115.94 412.52 L116.32 412.27 L116.7 412.02 L117.08 411.78 L117.45 411.55 L117.83 411.32 L118.21 411.1 L118.58 410.88 L118.96 410.66 L119.34 410.44 L119.71 410.23 L120.09 410.01 L120.47 409.79 L120.85 409.57 L121.22 409.34 L121.6 409.11 L121.98 408.87 L122.35 408.62 L122.73 408.37 L123.11 408.1 L123.49 407.83 L123.86 407.54 L124.24 407.25 L124.62 406.95 L124.99 406.64 L125.37 406.33 L125.75 406.01 L126.13 405.69 L126.5 405.36 L126.88 405.02 L127.26 404.69 L127.63 404.35 L128.01 404.01 L128.39 403.66 L128.76 403.31 L129.14 402.97 L129.52 402.62 L129.9 402.27 L130.27 401.92 L130.65 401.57 L131.03 401.22 L131.4 400.87 L131.78 400.53 L132.16 400.18 L132.54 399.84 L132.91 399.5 L133.29 399.17 L133.67 398.84 L134.04 398.52 L134.42 398.19 L134.8 397.88 L135.18 397.57 L135.55 397.27 L135.93 396.97 L136.31 396.69 L136.68 396.4 L137.06 396.12 L137.44 395.84 L137.81 395.56 L138.19 395.28 L138.57 395 L138.95 394.72 L139.32 394.45 L139.7 394.17 L140.08 393.9 L140.45 393.62 L140.83 393.35 L141.21 393.08 L141.59 392.82 L141.96 392.55 L142.34 392.29 L142.72 392.04 L143.09 391.78 L143.47 391.53 L143.85 391.28 L144.23 391.03 L144.6 390.79 L144.98 390.55 L145.36 390.32 L145.73 390.09 L146.11 389.87 L146.49 389.64 L146.86 389.43 L147.24 389.22 L147.62 389.01 L148 388.81 L148.37 388.62 L148.75 388.43 L149.13 388.24 L149.5 388.06 L149.88 387.89 L150.26 387.71 L150.64 387.54 L151.01 387.38 L151.39 387.21 L151.77 387.05 L152.14 386.89 L152.52 386.74 L152.9 386.58 L153.28 386.43 L153.65 386.29 L154.03 386.15 L154.41 386.01 L154.78 385.87 L155.16 385.74 L155.54 385.61 L155.91 385.49 L156.29 385.37 L156.67 385.25 L157.05 385.14 L157.42 385.03 L157.8 384.93" fill="none" stroke="#2b2b2b" stroke-width="0.88" stroke-linejoin="round" clip-path="url(#clipg)"/>
<line x1="50.4" y1="366.11" x2="50.4" y2="452.1" stroke="#2a2a2a" stroke-width="0.9"/>
<line x1="46.2" y1="371.5" x2="50.4" y2="371.5" stroke="#2a2a2a" stroke-width="0.8"/>
<text transform="translate(43.1 373.8) scale(0.85 1)" font-size="6.47" text-anchor="end" fill="#222" stroke="#222" stroke-width="0.1">5</text>
<line x1="46.2" y1="381.3" x2="50.4" y2="381.3" stroke="#2a2a2a" stroke-width="0.8"/>
<text transform="translate(43.1 383.6) scale(0.85 1)" font-size="6.47" text-anchor="end" fill="#222" stroke="#222" stroke-width="0.1">4</text>
<line x1="46.2" y1="391.1" x2="50.4" y2="391.1" stroke="#2a2a2a" stroke-width="0.8"/>
<text transform="translate(43.1 393.4) scale(0.85 1)" font-size="6.47" text-anchor="end" fill="#222" stroke="#222" stroke-width="0.1">3</text>
<line x1="46.2" y1="400.9" x2="50.4" y2="400.9" stroke="#2a2a2a" stroke-width="0.8"/>
<text transform="translate(43.1 403.2) scale(0.85 1)" font-size="6.47" text-anchor="end" fill="#222" stroke="#222" stroke-width="0.1">2</text>
<line x1="46.2" y1="410.7" x2="50.4" y2="410.7" stroke="#2a2a2a" stroke-width="0.8"/>
<text transform="translate(43.1 413) scale(0.85 1)" font-size="6.47" text-anchor="end" fill="#222" stroke="#222" stroke-width="0.1">1</text>
<line x1="46.2" y1="420.5" x2="50.4" y2="420.5" stroke="#2a2a2a" stroke-width="0.8"/>
<text transform="translate(43.1 422.8) scale(0.85 1)" font-size="6.47" text-anchor="end" fill="#222" stroke="#222" stroke-width="0.1">0</text>
<line x1="46.2" y1="430.3" x2="50.4" y2="430.3" stroke="#2a2a2a" stroke-width="0.8"/>
<text transform="translate(43.1 432.6) scale(0.85 1)" font-size="6.47" text-anchor="end" fill="#222" stroke="#222" stroke-width="0.1">-1</text>
<line x1="46.2" y1="440.1" x2="50.4" y2="440.1" stroke="#2a2a2a" stroke-width="0.8"/>
<text transform="translate(43.1 442.4) scale(0.85 1)" font-size="6.47" text-anchor="end" fill="#222" stroke="#222" stroke-width="0.1">-2</text>
<line x1="46.2" y1="449.9" x2="50.4" y2="449.9" stroke="#2a2a2a" stroke-width="0.8"/>
<text transform="translate(43.1 452.2) scale(0.85 1)" font-size="6.47" text-anchor="end" fill="#222" stroke="#222" stroke-width="0.1">-3</text>
<line x1="46.2" y1="451.3" x2="50.4" y2="451.3" stroke="#2a2a2a" stroke-width="0.8"/>
<line x1="50" y1="451.7" x2="158.2" y2="451.7" stroke="#2a2a2a" stroke-width="1"/>
<line x1="53.16" y1="451.7" x2="53.16" y2="454" stroke="#2a2a2a" stroke-width="0.75"/>
<line x1="57.52" y1="451.7" x2="57.52" y2="454" stroke="#2a2a2a" stroke-width="0.75"/>
<line x1="61.88" y1="451.7" x2="61.88" y2="454" stroke="#2a2a2a" stroke-width="0.75"/>
<line x1="66.24" y1="451.7" x2="66.24" y2="454" stroke="#2a2a2a" stroke-width="0.75"/>
<line x1="70.6" y1="451.7" x2="70.6" y2="456.1" stroke="#2a2a2a" stroke-width="0.75"/>
<text transform="translate(70.6 464) scale(0.85 1)" font-size="6.47" text-anchor="middle" fill="#222" stroke="#222" stroke-width="0.1">10</text>
<line x1="74.96" y1="451.7" x2="74.96" y2="454" stroke="#2a2a2a" stroke-width="0.75"/>
<line x1="79.32" y1="451.7" x2="79.32" y2="454" stroke="#2a2a2a" stroke-width="0.75"/>
<line x1="83.68" y1="451.7" x2="83.68" y2="454" stroke="#2a2a2a" stroke-width="0.75"/>
<line x1="88.04" y1="451.7" x2="88.04" y2="454" stroke="#2a2a2a" stroke-width="0.75"/>
<line x1="92.4" y1="451.7" x2="92.4" y2="456.1" stroke="#2a2a2a" stroke-width="0.75"/>
<text transform="translate(92.4 464) scale(0.85 1)" font-size="6.47" text-anchor="middle" fill="#222" stroke="#222" stroke-width="0.1">20</text>
<line x1="96.76" y1="451.7" x2="96.76" y2="454" stroke="#2a2a2a" stroke-width="0.75"/>
<line x1="101.12" y1="451.7" x2="101.12" y2="454" stroke="#2a2a2a" stroke-width="0.75"/>
<line x1="105.48" y1="451.7" x2="105.48" y2="454" stroke="#2a2a2a" stroke-width="0.75"/>
<line x1="109.84" y1="451.7" x2="109.84" y2="454" stroke="#2a2a2a" stroke-width="0.75"/>
<line x1="114.2" y1="451.7" x2="114.2" y2="456.1" stroke="#2a2a2a" stroke-width="0.75"/>
<text transform="translate(114.2 464) scale(0.85 1)" font-size="6.47" text-anchor="middle" fill="#222" stroke="#222" stroke-width="0.1">30</text>
<line x1="118.56" y1="451.7" x2="118.56" y2="454" stroke="#2a2a2a" stroke-width="0.75"/>
<line x1="122.92" y1="451.7" x2="122.92" y2="454" stroke="#2a2a2a" stroke-width="0.75"/>
<line x1="127.28" y1="451.7" x2="127.28" y2="454" stroke="#2a2a2a" stroke-width="0.75"/>
<line x1="131.64" y1="451.7" x2="131.64" y2="454" stroke="#2a2a2a" stroke-width="0.75"/>
<line x1="136" y1="451.7" x2="136" y2="456.1" stroke="#2a2a2a" stroke-width="0.75"/>
<text transform="translate(136 464) scale(0.85 1)" font-size="6.47" text-anchor="middle" fill="#222" stroke="#222" stroke-width="0.1">40</text>
<line x1="140.36" y1="451.7" x2="140.36" y2="454" stroke="#2a2a2a" stroke-width="0.75"/>
<line x1="144.72" y1="451.7" x2="144.72" y2="454" stroke="#2a2a2a" stroke-width="0.75"/>
<line x1="149.08" y1="451.7" x2="149.08" y2="454" stroke="#2a2a2a" stroke-width="0.75"/>
<line x1="153.44" y1="451.7" x2="153.44" y2="454" stroke="#2a2a2a" stroke-width="0.75"/>
<line x1="157.8" y1="451.7" x2="157.8" y2="456.1" stroke="#2a2a2a" stroke-width="0.75"/>
<text transform="translate(157.8 464) scale(0.85 1)" font-size="6.47" text-anchor="middle" fill="#222" stroke="#222" stroke-width="0.1">50</text>
<text x="104.3" y="471.5" font-size="6.1" text-anchor="middle" fill="#222" stroke="#222" stroke-width="0.1">Quanta</text>
<text transform="translate(31.7 407.5) rotate(-90)" font-size="6.1" text-anchor="middle" fill="#222" stroke="#222" stroke-width="0.1">phi (q)</text>
<text x="28.2" y="373.6" font-size="7.8" text-anchor="start" fill="#1c1c1c" stroke="#1c1c1c" stroke-width="0.3">g</text>
<text transform="translate(126.8 376.5) scale(0.92 1)" font-size="5.82" text-anchor="start" fill="#222" stroke="#222" stroke-width="0.1">Fragments</text>
<rect x="200.3" y="82.77" width="1.85" height="13.78" fill="#929292" stroke="#3c3c3c" stroke-width="0.4"/>
<rect x="202.15" y="82.77" width="1.85" height="13.78" fill="#929292" stroke="#3c3c3c" stroke-width="0.4"/>
<rect x="205.85" y="27.65" width="1.85" height="68.9" fill="#929292" stroke="#3c3c3c" stroke-width="0.4"/>
<rect x="207.7" y="68.99" width="1.85" height="27.56" fill="#929292" stroke="#3c3c3c" stroke-width="0.4"/>
<rect x="209.55" y="27.65" width="1.85" height="68.9" fill="#929292" stroke="#3c3c3c" stroke-width="0.4"/>
<rect x="211.4" y="82.77" width="1.85" height="13.78" fill="#929292" stroke="#3c3c3c" stroke-width="0.4"/>
<rect x="213.25" y="41.43" width="1.85" height="55.12" fill="#929292" stroke="#3c3c3c" stroke-width="0.4"/>
<rect x="216.95" y="82.77" width="1.85" height="13.78" fill="#929292" stroke="#3c3c3c" stroke-width="0.4"/>
<rect x="218.8" y="68.99" width="1.85" height="27.56" fill="#929292" stroke="#3c3c3c" stroke-width="0.4"/>
<rect x="220.65" y="41.43" width="1.85" height="55.12" fill="#929292" stroke="#3c3c3c" stroke-width="0.4"/>
<rect x="222.5" y="13.87" width="1.85" height="82.68" fill="#929292" stroke="#3c3c3c" stroke-width="0.4"/>
<rect x="224.35" y="68.99" width="1.85" height="27.56" fill="#929292" stroke="#3c3c3c" stroke-width="0.4"/>
<rect x="226.2" y="27.65" width="1.85" height="68.9" fill="#929292" stroke="#3c3c3c" stroke-width="0.4"/>
<rect x="228.05" y="55.21" width="1.85" height="41.34" fill="#929292" stroke="#3c3c3c" stroke-width="0.4"/>
<rect x="229.9" y="41.43" width="1.85" height="55.12" fill="#929292" stroke="#3c3c3c" stroke-width="0.4"/>
<rect x="231.75" y="68.99" width="1.85" height="27.56" fill="#929292" stroke="#3c3c3c" stroke-width="0.4"/>
<rect x="233.6" y="68.99" width="1.85" height="27.56" fill="#929292" stroke="#3c3c3c" stroke-width="0.4"/>
<rect x="235.45" y="82.77" width="1.85" height="13.78" fill="#929292" stroke="#3c3c3c" stroke-width="0.4"/>
<rect x="237.3" y="82.77" width="1.85" height="13.78" fill="#929292" stroke="#3c3c3c" stroke-width="0.4"/>
<rect x="239.15" y="68.99" width="1.85" height="27.56" fill="#929292" stroke="#3c3c3c" stroke-width="0.4"/>
<rect x="241" y="82.77" width="1.85" height="13.78" fill="#929292" stroke="#3c3c3c" stroke-width="0.4"/>
<rect x="242.85" y="82.77" width="1.85" height="13.78" fill="#929292" stroke="#3c3c3c" stroke-width="0.4"/>
<rect x="244.7" y="82.77" width="1.85" height="13.78" fill="#929292" stroke="#3c3c3c" stroke-width="0.4"/>
<rect x="246.55" y="82.77" width="1.85" height="13.78" fill="#929292" stroke="#3c3c3c" stroke-width="0.4"/>
<rect x="248.4" y="41.43" width="1.85" height="55.12" fill="#929292" stroke="#3c3c3c" stroke-width="0.4"/>
<rect x="255.8" y="82.77" width="1.85" height="13.78" fill="#929292" stroke="#3c3c3c" stroke-width="0.4"/>
<rect x="257.65" y="82.77" width="1.85" height="13.78" fill="#929292" stroke="#3c3c3c" stroke-width="0.4"/>
<rect x="261.35" y="82.77" width="1.85" height="13.78" fill="#929292" stroke="#3c3c3c" stroke-width="0.4"/>
<rect x="265.05" y="68.99" width="1.85" height="27.56" fill="#929292" stroke="#3c3c3c" stroke-width="0.4"/>
<rect x="266.9" y="82.77" width="1.85" height="13.78" fill="#929292" stroke="#3c3c3c" stroke-width="0.4"/>
<rect x="268.75" y="68.99" width="1.85" height="27.56" fill="#929292" stroke="#3c3c3c" stroke-width="0.4"/>
<rect x="270.6" y="41.43" width="1.85" height="55.12" fill="#929292" stroke="#3c3c3c" stroke-width="0.4"/>
<rect x="276.15" y="82.77" width="1.85" height="13.78" fill="#929292" stroke="#3c3c3c" stroke-width="0.4"/>
<rect x="278" y="55.21" width="1.85" height="41.34" fill="#929292" stroke="#3c3c3c" stroke-width="0.4"/>
<rect x="279.85" y="68.99" width="1.85" height="27.56" fill="#929292" stroke="#3c3c3c" stroke-width="0.4"/>
<rect x="290.95" y="82.77" width="1.85" height="13.78" fill="#929292" stroke="#3c3c3c" stroke-width="0.4"/>
<rect x="296.5" y="82.77" width="1.85" height="13.78" fill="#929292" stroke="#3c3c3c" stroke-width="0.4"/>
<line x1="199.6" y1="13.87" x2="199.6" y2="97.55" stroke="#2a2a2a" stroke-width="0.9"/>
<line x1="195.4" y1="13.87" x2="199.6" y2="13.87" stroke="#2a2a2a" stroke-width="0.8"/>
<text transform="translate(193.2 16.17) scale(0.85 1)" font-size="6.47" text-anchor="end" fill="#222" stroke="#222" stroke-width="0.1">6</text>
<line x1="195.4" y1="27.65" x2="199.6" y2="27.65" stroke="#2a2a2a" stroke-width="0.8"/>
<text transform="translate(193.2 29.95) scale(0.85 1)" font-size="6.47" text-anchor="end" fill="#222" stroke="#222" stroke-width="0.1">5</text>
<line x1="195.4" y1="41.43" x2="199.6" y2="41.43" stroke="#2a2a2a" stroke-width="0.8"/>
<text transform="translate(193.2 43.73) scale(0.85 1)" font-size="6.47" text-anchor="end" fill="#222" stroke="#222" stroke-width="0.1">4</text>
<line x1="195.4" y1="55.21" x2="199.6" y2="55.21" stroke="#2a2a2a" stroke-width="0.8"/>
<text transform="translate(193.2 57.51) scale(0.85 1)" font-size="6.47" text-anchor="end" fill="#222" stroke="#222" stroke-width="0.1">3</text>
<line x1="195.4" y1="68.99" x2="199.6" y2="68.99" stroke="#2a2a2a" stroke-width="0.8"/>
<text transform="translate(193.2 71.29) scale(0.85 1)" font-size="6.47" text-anchor="end" fill="#222" stroke="#222" stroke-width="0.1">2</text>
<line x1="195.4" y1="82.77" x2="199.6" y2="82.77" stroke="#2a2a2a" stroke-width="0.8"/>
<text transform="translate(193.2 85.07) scale(0.85 1)" font-size="6.47" text-anchor="end" fill="#222" stroke="#222" stroke-width="0.1">1</text>
<line x1="195.4" y1="96.55" x2="199.6" y2="96.55" stroke="#2a2a2a" stroke-width="0.8"/>
<text transform="translate(193.2 98.85) scale(0.85 1)" font-size="6.47" text-anchor="end" fill="#222" stroke="#222" stroke-width="0.1">0</text>
<line x1="199.2" y1="97.15" x2="311.7" y2="97.15" stroke="#2a2a2a" stroke-width="1.3"/>
<line x1="200.3" y1="97.15" x2="200.3" y2="101.75" stroke="#2a2a2a" stroke-width="0.75"/>
<text transform="translate(200.3 109.6) scale(0.85 1)" font-size="6.47" text-anchor="middle" fill="#222" stroke="#222" stroke-width="0.1">0</text>
<line x1="204" y1="97.15" x2="204" y2="99.65" stroke="#2a2a2a" stroke-width="0.75"/>
<line x1="207.7" y1="97.15" x2="207.7" y2="99.65" stroke="#2a2a2a" stroke-width="0.75"/>
<line x1="211.4" y1="97.15" x2="211.4" y2="99.65" stroke="#2a2a2a" stroke-width="0.75"/>
<line x1="215.1" y1="97.15" x2="215.1" y2="99.65" stroke="#2a2a2a" stroke-width="0.75"/>
<line x1="218.8" y1="97.15" x2="218.8" y2="101.75" stroke="#2a2a2a" stroke-width="0.75"/>
<text transform="translate(218.8 109.6) scale(0.85 1)" font-size="6.47" text-anchor="middle" fill="#222" stroke="#222" stroke-width="0.1">10</text>
<line x1="222.5" y1="97.15" x2="222.5" y2="99.65" stroke="#2a2a2a" stroke-width="0.75"/>
<line x1="226.2" y1="97.15" x2="226.2" y2="99.65" stroke="#2a2a2a" stroke-width="0.75"/>
<line x1="229.9" y1="97.15" x2="229.9" y2="99.65" stroke="#2a2a2a" stroke-width="0.75"/>
<line x1="233.6" y1="97.15" x2="233.6" y2="99.65" stroke="#2a2a2a" stroke-width="0.75"/>
<line x1="237.3" y1="97.15" x2="237.3" y2="101.75" stroke="#2a2a2a" stroke-width="0.75"/>
<text transform="translate(237.3 109.6) scale(0.85 1)" font-size="6.47" text-anchor="middle" fill="#222" stroke="#222" stroke-width="0.1">20</text>
<line x1="241" y1="97.15" x2="241" y2="99.65" stroke="#2a2a2a" stroke-width="0.75"/>
<line x1="244.7" y1="97.15" x2="244.7" y2="99.65" stroke="#2a2a2a" stroke-width="0.75"/>
<line x1="248.4" y1="97.15" x2="248.4" y2="99.65" stroke="#2a2a2a" stroke-width="0.75"/>
<line x1="252.1" y1="97.15" x2="252.1" y2="99.65" stroke="#2a2a2a" stroke-width="0.75"/>
<line x1="255.8" y1="97.15" x2="255.8" y2="101.75" stroke="#2a2a2a" stroke-width="0.75"/>
<text transform="translate(255.8 109.6) scale(0.85 1)" font-size="6.47" text-anchor="middle" fill="#222" stroke="#222" stroke-width="0.1">30</text>
<line x1="259.5" y1="97.15" x2="259.5" y2="99.65" stroke="#2a2a2a" stroke-width="0.75"/>
<line x1="263.2" y1="97.15" x2="263.2" y2="99.65" stroke="#2a2a2a" stroke-width="0.75"/>
<line x1="266.9" y1="97.15" x2="266.9" y2="99.65" stroke="#2a2a2a" stroke-width="0.75"/>
<line x1="270.6" y1="97.15" x2="270.6" y2="99.65" stroke="#2a2a2a" stroke-width="0.75"/>
<line x1="274.3" y1="97.15" x2="274.3" y2="101.75" stroke="#2a2a2a" stroke-width="0.75"/>
<text transform="translate(274.3 109.6) scale(0.85 1)" font-size="6.47" text-anchor="middle" fill="#222" stroke="#222" stroke-width="0.1">40</text>
<line x1="278" y1="97.15" x2="278" y2="99.65" stroke="#2a2a2a" stroke-width="0.75"/>
<line x1="281.7" y1="97.15" x2="281.7" y2="99.65" stroke="#2a2a2a" stroke-width="0.75"/>
<line x1="285.4" y1="97.15" x2="285.4" y2="99.65" stroke="#2a2a2a" stroke-width="0.75"/>
<line x1="289.1" y1="97.15" x2="289.1" y2="99.65" stroke="#2a2a2a" stroke-width="0.75"/>
<line x1="292.8" y1="97.15" x2="292.8" y2="101.75" stroke="#2a2a2a" stroke-width="0.75"/>
<text transform="translate(292.8 109.6) scale(0.85 1)" font-size="6.47" text-anchor="middle" fill="#222" stroke="#222" stroke-width="0.1">50</text>
<line x1="296.5" y1="97.15" x2="296.5" y2="99.65" stroke="#2a2a2a" stroke-width="0.75"/>
<line x1="300.2" y1="97.15" x2="300.2" y2="99.65" stroke="#2a2a2a" stroke-width="0.75"/>
<line x1="303.9" y1="97.15" x2="303.9" y2="99.65" stroke="#2a2a2a" stroke-width="0.75"/>
<line x1="307.6" y1="97.15" x2="307.6" y2="99.65" stroke="#2a2a2a" stroke-width="0.75"/>
<line x1="311.3" y1="97.15" x2="311.3" y2="101.75" stroke="#2a2a2a" stroke-width="0.75"/>
<text transform="translate(311.3 109.6) scale(0.85 1)" font-size="6.47" text-anchor="middle" fill="#222" stroke="#222" stroke-width="0.1">60</text>
<text x="256.5" y="117.1" font-size="6.1" text-anchor="middle" fill="#222" stroke="#222" stroke-width="0.1">Mass (g)</text>
<text transform="translate(181.9 55.7) rotate(-90)" font-size="6.1" text-anchor="middle" fill="#222" stroke="#222" stroke-width="0.1">Frequency</text>
<text x="182" y="16.1" font-size="7.8" text-anchor="start" fill="#1c1c1c" stroke="#1c1c1c" stroke-width="0.3">b</text>
<text transform="translate(297.8 22.5) scale(0.92 1)" font-size="5.82" text-anchor="middle" fill="#222" stroke="#222" stroke-width="0.1">n = 82</text>
<rect x="204.1" y="199.52" width="1.78" height="15.08" fill="#929292" stroke="#3c3c3c" stroke-width="0.4"/>
<rect x="205.88" y="191.98" width="1.78" height="22.62" fill="#929292" stroke="#3c3c3c" stroke-width="0.4"/>
<rect x="207.67" y="139.2" width="1.78" height="75.4" fill="#929292" stroke="#3c3c3c" stroke-width="0.4"/>
<rect x="209.45" y="139.2" width="1.78" height="75.4" fill="#929292" stroke="#3c3c3c" stroke-width="0.4"/>
<rect x="211.24" y="184.44" width="1.78" height="30.16" fill="#929292" stroke="#3c3c3c" stroke-width="0.4"/>
<rect x="213.03" y="169.36" width="1.78" height="45.24" fill="#929292" stroke="#3c3c3c" stroke-width="0.4"/>
<rect x="214.81" y="161.82" width="1.78" height="52.78" fill="#929292" stroke="#3c3c3c" stroke-width="0.4"/>
<rect x="216.59" y="131.66" width="1.78" height="82.94" fill="#929292" stroke="#3c3c3c" stroke-width="0.4"/>
<rect x="218.38" y="207.06" width="1.78" height="7.54" fill="#929292" stroke="#3c3c3c" stroke-width="0.4"/>
<rect x="220.16" y="161.82" width="1.78" height="52.78" fill="#929292" stroke="#3c3c3c" stroke-width="0.4"/>
<rect x="221.95" y="191.98" width="1.78" height="22.62" fill="#929292" stroke="#3c3c3c" stroke-width="0.4"/>
<rect x="223.73" y="169.36" width="1.78" height="45.24" fill="#929292" stroke="#3c3c3c" stroke-width="0.4"/>
<rect x="225.52" y="176.9" width="1.78" height="37.7" fill="#929292" stroke="#3c3c3c" stroke-width="0.4"/>
<rect x="227.31" y="169.36" width="1.78" height="45.24" fill="#929292" stroke="#3c3c3c" stroke-width="0.4"/>
<rect x="229.09" y="176.9" width="1.78" height="37.7" fill="#929292" stroke="#3c3c3c" stroke-width="0.4"/>
<rect x="230.88" y="207.06" width="1.78" height="7.54" fill="#929292" stroke="#3c3c3c" stroke-width="0.4"/>
<rect x="232.66" y="176.9" width="1.78" height="37.7" fill="#929292" stroke="#3c3c3c" stroke-width="0.4"/>
<rect x="234.44" y="176.9" width="1.78" height="37.7" fill="#929292" stroke="#3c3c3c" stroke-width="0.4"/>
<rect x="236.23" y="184.44" width="1.78" height="30.16" fill="#929292" stroke="#3c3c3c" stroke-width="0.4"/>
<rect x="238.01" y="199.52" width="1.78" height="15.08" fill="#929292" stroke="#3c3c3c" stroke-width="0.4"/>
<rect x="239.8" y="199.52" width="1.78" height="15.08" fill="#929292" stroke="#3c3c3c" stroke-width="0.4"/>
<rect x="241.58" y="176.9" width="1.78" height="37.7" fill="#929292" stroke="#3c3c3c" stroke-width="0.4"/>
<rect x="245.16" y="191.98" width="1.78" height="22.62" fill="#929292" stroke="#3c3c3c" stroke-width="0.4"/>
<rect x="246.94" y="191.98" width="1.78" height="22.62" fill="#929292" stroke="#3c3c3c" stroke-width="0.4"/>
<rect x="248.72" y="199.52" width="1.78" height="15.08" fill="#929292" stroke="#3c3c3c" stroke-width="0.4"/>
<rect x="250.51" y="207.06" width="1.78" height="7.54" fill="#929292" stroke="#3c3c3c" stroke-width="0.4"/>
<rect x="270.14" y="207.06" width="1.78" height="7.54" fill="#929292" stroke="#3c3c3c" stroke-width="0.4"/>
<line x1="203.2" y1="131.66" x2="203.2" y2="215.6" stroke="#2a2a2a" stroke-width="0.9"/>
<line x1="199" y1="139.2" x2="203.2" y2="139.2" stroke="#2a2a2a" stroke-width="0.8"/>
<text transform="translate(196.8 141.5) scale(0.85 1)" font-size="6.47" text-anchor="end" fill="#222" stroke="#222" stroke-width="0.1">10</text>
<line x1="199" y1="154.28" x2="203.2" y2="154.28" stroke="#2a2a2a" stroke-width="0.8"/>
<text transform="translate(196.8 156.58) scale(0.85 1)" font-size="6.47" text-anchor="end" fill="#222" stroke="#222" stroke-width="0.1">8</text>
<line x1="199" y1="169.36" x2="203.2" y2="169.36" stroke="#2a2a2a" stroke-width="0.8"/>
<text transform="translate(196.8 171.66) scale(0.85 1)" font-size="6.47" text-anchor="end" fill="#222" stroke="#222" stroke-width="0.1">6</text>
<line x1="199" y1="184.44" x2="203.2" y2="184.44" stroke="#2a2a2a" stroke-width="0.8"/>
<text transform="translate(196.8 186.74) scale(0.85 1)" font-size="6.47" text-anchor="end" fill="#222" stroke="#222" stroke-width="0.1">4</text>
<line x1="199" y1="199.52" x2="203.2" y2="199.52" stroke="#2a2a2a" stroke-width="0.8"/>
<text transform="translate(196.8 201.82) scale(0.85 1)" font-size="6.47" text-anchor="end" fill="#222" stroke="#222" stroke-width="0.1">2</text>
<line x1="199" y1="214.6" x2="203.2" y2="214.6" stroke="#2a2a2a" stroke-width="0.8"/>
<text transform="translate(196.8 216.9) scale(0.85 1)" font-size="6.47" text-anchor="end" fill="#222" stroke="#222" stroke-width="0.1">0</text>
<line x1="202.8" y1="215.2" x2="311.6" y2="215.2" stroke="#2a2a2a" stroke-width="1.3"/>
<line x1="204.1" y1="215.2" x2="204.1" y2="219.8" stroke="#2a2a2a" stroke-width="0.75"/>
<text transform="translate(204.1 227.8) scale(0.85 1)" font-size="6.47" text-anchor="middle" fill="#222" stroke="#222" stroke-width="0.1">0</text>
<line x1="207.67" y1="215.2" x2="207.67" y2="217.7" stroke="#2a2a2a" stroke-width="0.75"/>
<line x1="211.24" y1="215.2" x2="211.24" y2="217.7" stroke="#2a2a2a" stroke-width="0.75"/>
<line x1="214.81" y1="215.2" x2="214.81" y2="217.7" stroke="#2a2a2a" stroke-width="0.75"/>
<line x1="218.38" y1="215.2" x2="218.38" y2="217.7" stroke="#2a2a2a" stroke-width="0.75"/>
<line x1="221.95" y1="215.2" x2="221.95" y2="219.8" stroke="#2a2a2a" stroke-width="0.75"/>
<text transform="translate(221.95 227.8) scale(0.85 1)" font-size="6.47" text-anchor="middle" fill="#222" stroke="#222" stroke-width="0.1">10</text>
<line x1="225.52" y1="215.2" x2="225.52" y2="217.7" stroke="#2a2a2a" stroke-width="0.75"/>
<line x1="229.09" y1="215.2" x2="229.09" y2="217.7" stroke="#2a2a2a" stroke-width="0.75"/>
<line x1="232.66" y1="215.2" x2="232.66" y2="217.7" stroke="#2a2a2a" stroke-width="0.75"/>
<line x1="236.23" y1="215.2" x2="236.23" y2="217.7" stroke="#2a2a2a" stroke-width="0.75"/>
<line x1="239.8" y1="215.2" x2="239.8" y2="219.8" stroke="#2a2a2a" stroke-width="0.75"/>
<text transform="translate(239.8 227.8) scale(0.85 1)" font-size="6.47" text-anchor="middle" fill="#222" stroke="#222" stroke-width="0.1">20</text>
<line x1="243.37" y1="215.2" x2="243.37" y2="217.7" stroke="#2a2a2a" stroke-width="0.75"/>
<line x1="246.94" y1="215.2" x2="246.94" y2="217.7" stroke="#2a2a2a" stroke-width="0.75"/>
<line x1="250.51" y1="215.2" x2="250.51" y2="217.7" stroke="#2a2a2a" stroke-width="0.75"/>
<line x1="254.08" y1="215.2" x2="254.08" y2="217.7" stroke="#2a2a2a" stroke-width="0.75"/>
<line x1="257.65" y1="215.2" x2="257.65" y2="219.8" stroke="#2a2a2a" stroke-width="0.75"/>
<text transform="translate(257.65 227.8) scale(0.85 1)" font-size="6.47" text-anchor="middle" fill="#222" stroke="#222" stroke-width="0.1">30</text>
<line x1="261.22" y1="215.2" x2="261.22" y2="217.7" stroke="#2a2a2a" stroke-width="0.75"/>
<line x1="264.79" y1="215.2" x2="264.79" y2="217.7" stroke="#2a2a2a" stroke-width="0.75"/>
<line x1="268.36" y1="215.2" x2="268.36" y2="217.7" stroke="#2a2a2a" stroke-width="0.75"/>
<line x1="271.93" y1="215.2" x2="271.93" y2="217.7" stroke="#2a2a2a" stroke-width="0.75"/>
<line x1="275.5" y1="215.2" x2="275.5" y2="219.8" stroke="#2a2a2a" stroke-width="0.75"/>
<text transform="translate(275.5 227.8) scale(0.85 1)" font-size="6.47" text-anchor="middle" fill="#222" stroke="#222" stroke-width="0.1">40</text>
<line x1="279.07" y1="215.2" x2="279.07" y2="217.7" stroke="#2a2a2a" stroke-width="0.75"/>
<line x1="282.64" y1="215.2" x2="282.64" y2="217.7" stroke="#2a2a2a" stroke-width="0.75"/>
<line x1="286.21" y1="215.2" x2="286.21" y2="217.7" stroke="#2a2a2a" stroke-width="0.75"/>
<line x1="289.78" y1="215.2" x2="289.78" y2="217.7" stroke="#2a2a2a" stroke-width="0.75"/>
<line x1="293.35" y1="215.2" x2="293.35" y2="219.8" stroke="#2a2a2a" stroke-width="0.75"/>
<text transform="translate(293.35 227.8) scale(0.85 1)" font-size="6.47" text-anchor="middle" fill="#222" stroke="#222" stroke-width="0.1">50</text>
<line x1="296.92" y1="215.2" x2="296.92" y2="217.7" stroke="#2a2a2a" stroke-width="0.75"/>
<line x1="300.49" y1="215.2" x2="300.49" y2="217.7" stroke="#2a2a2a" stroke-width="0.75"/>
<line x1="304.06" y1="215.2" x2="304.06" y2="217.7" stroke="#2a2a2a" stroke-width="0.75"/>
<line x1="307.63" y1="215.2" x2="307.63" y2="217.7" stroke="#2a2a2a" stroke-width="0.75"/>
<line x1="311.2" y1="215.2" x2="311.2" y2="219.8" stroke="#2a2a2a" stroke-width="0.75"/>
<text transform="translate(311.2 227.8) scale(0.85 1)" font-size="6.47" text-anchor="middle" fill="#222" stroke="#222" stroke-width="0.1">60</text>
<text x="256.5" y="235.3" font-size="6.1" text-anchor="middle" fill="#222" stroke="#222" stroke-width="0.1">Mass (g)</text>
<text transform="translate(181.9 173.9) rotate(-90)" font-size="6.1" text-anchor="middle" fill="#222" stroke="#222" stroke-width="0.1">Frequency</text>
<text x="182" y="134.9" font-size="7.8" text-anchor="start" fill="#1c1c1c" stroke="#1c1c1c" stroke-width="0.3">d</text>
<text transform="translate(297.8 140.7) scale(0.92 1)" font-size="5.82" text-anchor="middle" fill="#222" stroke="#222" stroke-width="0.1">n = 120</text>
<rect x="217.06" y="327.4" width="1.78" height="5.2" fill="#929292" stroke="#3c3c3c" stroke-width="0.4"/>
<rect x="224.18" y="322.2" width="1.78" height="10.4" fill="#929292" stroke="#3c3c3c" stroke-width="0.4"/>
<rect x="225.96" y="280.6" width="1.78" height="52" fill="#929292" stroke="#3c3c3c" stroke-width="0.4"/>
<rect x="227.74" y="249.4" width="1.78" height="83.2" fill="#929292" stroke="#3c3c3c" stroke-width="0.4"/>
<rect x="229.52" y="322.2" width="1.78" height="10.4" fill="#929292" stroke="#3c3c3c" stroke-width="0.4"/>
<rect x="233.08" y="327.4" width="1.78" height="5.2" fill="#929292" stroke="#3c3c3c" stroke-width="0.4"/>
<rect x="236.64" y="327.4" width="1.78" height="5.2" fill="#929292" stroke="#3c3c3c" stroke-width="0.4"/>
<rect x="243.76" y="327.4" width="1.78" height="5.2" fill="#929292" stroke="#3c3c3c" stroke-width="0.4"/>
<rect x="254.44" y="327.4" width="1.78" height="5.2" fill="#929292" stroke="#3c3c3c" stroke-width="0.4"/>
<rect x="286.48" y="327.4" width="1.78" height="5.2" fill="#929292" stroke="#3c3c3c" stroke-width="0.4"/>
<line x1="203.2" y1="249.4" x2="203.2" y2="333.6" stroke="#2a2a2a" stroke-width="0.9"/>
<line x1="199" y1="249.4" x2="203.2" y2="249.4" stroke="#2a2a2a" stroke-width="0.8"/>
<text transform="translate(196.8 251.7) scale(0.85 1)" font-size="6.47" text-anchor="end" fill="#222" stroke="#222" stroke-width="0.1">16</text>
<line x1="199" y1="259.8" x2="203.2" y2="259.8" stroke="#2a2a2a" stroke-width="0.8"/>
<text transform="translate(196.8 262.1) scale(0.85 1)" font-size="6.47" text-anchor="end" fill="#222" stroke="#222" stroke-width="0.1">14</text>
<line x1="199" y1="270.2" x2="203.2" y2="270.2" stroke="#2a2a2a" stroke-width="0.8"/>
<text transform="translate(196.8 272.5) scale(0.85 1)" font-size="6.47" text-anchor="end" fill="#222" stroke="#222" stroke-width="0.1">12</text>
<line x1="199" y1="280.6" x2="203.2" y2="280.6" stroke="#2a2a2a" stroke-width="0.8"/>
<text transform="translate(196.8 282.9) scale(0.85 1)" font-size="6.47" text-anchor="end" fill="#222" stroke="#222" stroke-width="0.1">10</text>
<line x1="199" y1="291" x2="203.2" y2="291" stroke="#2a2a2a" stroke-width="0.8"/>
<text transform="translate(196.8 293.3) scale(0.85 1)" font-size="6.47" text-anchor="end" fill="#222" stroke="#222" stroke-width="0.1">8</text>
<line x1="199" y1="301.4" x2="203.2" y2="301.4" stroke="#2a2a2a" stroke-width="0.8"/>
<text transform="translate(196.8 303.7) scale(0.85 1)" font-size="6.47" text-anchor="end" fill="#222" stroke="#222" stroke-width="0.1">6</text>
<line x1="199" y1="311.8" x2="203.2" y2="311.8" stroke="#2a2a2a" stroke-width="0.8"/>
<text transform="translate(196.8 314.1) scale(0.85 1)" font-size="6.47" text-anchor="end" fill="#222" stroke="#222" stroke-width="0.1">4</text>
<line x1="199" y1="322.2" x2="203.2" y2="322.2" stroke="#2a2a2a" stroke-width="0.8"/>
<text transform="translate(196.8 324.5) scale(0.85 1)" font-size="6.47" text-anchor="end" fill="#222" stroke="#222" stroke-width="0.1">2</text>
<line x1="199" y1="332.6" x2="203.2" y2="332.6" stroke="#2a2a2a" stroke-width="0.8"/>
<text transform="translate(196.8 334.9) scale(0.85 1)" font-size="6.47" text-anchor="end" fill="#222" stroke="#222" stroke-width="0.1">0</text>
<line x1="202.8" y1="333.2" x2="311.8" y2="333.2" stroke="#2a2a2a" stroke-width="1.3"/>
<line x1="204.6" y1="333.2" x2="204.6" y2="337.8" stroke="#2a2a2a" stroke-width="0.75"/>
<text transform="translate(204.6 345.9) scale(0.85 1)" font-size="6.47" text-anchor="middle" fill="#222" stroke="#222" stroke-width="0.1">0</text>
<line x1="208.16" y1="333.2" x2="208.16" y2="335.7" stroke="#2a2a2a" stroke-width="0.75"/>
<line x1="211.72" y1="333.2" x2="211.72" y2="335.7" stroke="#2a2a2a" stroke-width="0.75"/>
<line x1="215.28" y1="333.2" x2="215.28" y2="335.7" stroke="#2a2a2a" stroke-width="0.75"/>
<line x1="218.84" y1="333.2" x2="218.84" y2="335.7" stroke="#2a2a2a" stroke-width="0.75"/>
<line x1="222.4" y1="333.2" x2="222.4" y2="337.8" stroke="#2a2a2a" stroke-width="0.75"/>
<text transform="translate(222.4 345.9) scale(0.85 1)" font-size="6.47" text-anchor="middle" fill="#222" stroke="#222" stroke-width="0.1">10</text>
<line x1="225.96" y1="333.2" x2="225.96" y2="335.7" stroke="#2a2a2a" stroke-width="0.75"/>
<line x1="229.52" y1="333.2" x2="229.52" y2="335.7" stroke="#2a2a2a" stroke-width="0.75"/>
<line x1="233.08" y1="333.2" x2="233.08" y2="335.7" stroke="#2a2a2a" stroke-width="0.75"/>
<line x1="236.64" y1="333.2" x2="236.64" y2="335.7" stroke="#2a2a2a" stroke-width="0.75"/>
<line x1="240.2" y1="333.2" x2="240.2" y2="337.8" stroke="#2a2a2a" stroke-width="0.75"/>
<text transform="translate(240.2 345.9) scale(0.85 1)" font-size="6.47" text-anchor="middle" fill="#222" stroke="#222" stroke-width="0.1">20</text>
<line x1="243.76" y1="333.2" x2="243.76" y2="335.7" stroke="#2a2a2a" stroke-width="0.75"/>
<line x1="247.32" y1="333.2" x2="247.32" y2="335.7" stroke="#2a2a2a" stroke-width="0.75"/>
<line x1="250.88" y1="333.2" x2="250.88" y2="335.7" stroke="#2a2a2a" stroke-width="0.75"/>
<line x1="254.44" y1="333.2" x2="254.44" y2="335.7" stroke="#2a2a2a" stroke-width="0.75"/>
<line x1="258" y1="333.2" x2="258" y2="337.8" stroke="#2a2a2a" stroke-width="0.75"/>
<text transform="translate(258 345.9) scale(0.85 1)" font-size="6.47" text-anchor="middle" fill="#222" stroke="#222" stroke-width="0.1">30</text>
<line x1="261.56" y1="333.2" x2="261.56" y2="335.7" stroke="#2a2a2a" stroke-width="0.75"/>
<line x1="265.12" y1="333.2" x2="265.12" y2="335.7" stroke="#2a2a2a" stroke-width="0.75"/>
<line x1="268.68" y1="333.2" x2="268.68" y2="335.7" stroke="#2a2a2a" stroke-width="0.75"/>
<line x1="272.24" y1="333.2" x2="272.24" y2="335.7" stroke="#2a2a2a" stroke-width="0.75"/>
<line x1="275.8" y1="333.2" x2="275.8" y2="337.8" stroke="#2a2a2a" stroke-width="0.75"/>
<text transform="translate(275.8 345.9) scale(0.85 1)" font-size="6.47" text-anchor="middle" fill="#222" stroke="#222" stroke-width="0.1">40</text>
<line x1="279.36" y1="333.2" x2="279.36" y2="335.7" stroke="#2a2a2a" stroke-width="0.75"/>
<line x1="282.92" y1="333.2" x2="282.92" y2="335.7" stroke="#2a2a2a" stroke-width="0.75"/>
<line x1="286.48" y1="333.2" x2="286.48" y2="335.7" stroke="#2a2a2a" stroke-width="0.75"/>
<line x1="290.04" y1="333.2" x2="290.04" y2="335.7" stroke="#2a2a2a" stroke-width="0.75"/>
<line x1="293.6" y1="333.2" x2="293.6" y2="337.8" stroke="#2a2a2a" stroke-width="0.75"/>
<text transform="translate(293.6 345.9) scale(0.85 1)" font-size="6.47" text-anchor="middle" fill="#222" stroke="#222" stroke-width="0.1">50</text>
<line x1="297.16" y1="333.2" x2="297.16" y2="335.7" stroke="#2a2a2a" stroke-width="0.75"/>
<line x1="300.72" y1="333.2" x2="300.72" y2="335.7" stroke="#2a2a2a" stroke-width="0.75"/>
<line x1="304.28" y1="333.2" x2="304.28" y2="335.7" stroke="#2a2a2a" stroke-width="0.75"/>
<line x1="307.84" y1="333.2" x2="307.84" y2="335.7" stroke="#2a2a2a" stroke-width="0.75"/>
<line x1="311.4" y1="333.2" x2="311.4" y2="337.8" stroke="#2a2a2a" stroke-width="0.75"/>
<text transform="translate(311.4 345.9) scale(0.85 1)" font-size="6.47" text-anchor="middle" fill="#222" stroke="#222" stroke-width="0.1">60</text>
<text x="256.5" y="353.4" font-size="6.1" text-anchor="middle" fill="#222" stroke="#222" stroke-width="0.1">Mass (g)</text>
<text transform="translate(181.9 292) rotate(-90)" font-size="6.1" text-anchor="middle" fill="#222" stroke="#222" stroke-width="0.1">Frequency</text>
<text x="181.6" y="253.9" font-size="7.8" text-anchor="start" fill="#1c1c1c" stroke="#1c1c1c" stroke-width="0.3">f</text>
<text transform="translate(297.8 258.8) scale(0.92 1)" font-size="5.82" text-anchor="middle" fill="#222" stroke="#222" stroke-width="0.1">n = 36</text>
<rect x="201" y="426.8" width="1.84" height="23.8" fill="#929292" stroke="#3c3c3c" stroke-width="0.4"/>
<rect x="202.84" y="438.7" width="1.84" height="11.9" fill="#929292" stroke="#3c3c3c" stroke-width="0.4"/>
<rect x="204.68" y="414.9" width="1.84" height="35.7" fill="#929292" stroke="#3c3c3c" stroke-width="0.4"/>
<rect x="206.52" y="403" width="1.84" height="47.6" fill="#929292" stroke="#3c3c3c" stroke-width="0.4"/>
<rect x="208.36" y="403" width="1.84" height="47.6" fill="#929292" stroke="#3c3c3c" stroke-width="0.4"/>
<rect x="210.2" y="438.7" width="1.84" height="11.9" fill="#929292" stroke="#3c3c3c" stroke-width="0.4"/>
<rect x="212.04" y="367.3" width="1.84" height="83.3" fill="#929292" stroke="#3c3c3c" stroke-width="0.4"/>
<rect x="213.88" y="414.9" width="1.84" height="35.7" fill="#929292" stroke="#3c3c3c" stroke-width="0.4"/>
<rect x="217.56" y="403" width="1.84" height="47.6" fill="#929292" stroke="#3c3c3c" stroke-width="0.4"/>
<rect x="219.4" y="438.7" width="1.84" height="11.9" fill="#929292" stroke="#3c3c3c" stroke-width="0.4"/>
<rect x="221.24" y="391.1" width="1.84" height="59.5" fill="#929292" stroke="#3c3c3c" stroke-width="0.4"/>
<rect x="223.08" y="426.8" width="1.84" height="23.8" fill="#929292" stroke="#3c3c3c" stroke-width="0.4"/>
<rect x="224.92" y="438.7" width="1.84" height="11.9" fill="#929292" stroke="#3c3c3c" stroke-width="0.4"/>
<rect x="226.76" y="426.8" width="1.84" height="23.8" fill="#929292" stroke="#3c3c3c" stroke-width="0.4"/>
<rect x="232.28" y="438.7" width="1.84" height="11.9" fill="#929292" stroke="#3c3c3c" stroke-width="0.4"/>
<rect x="235.96" y="438.7" width="1.84" height="11.9" fill="#929292" stroke="#3c3c3c" stroke-width="0.4"/>
<rect x="243.32" y="426.8" width="1.84" height="23.8" fill="#929292" stroke="#3c3c3c" stroke-width="0.4"/>
<rect x="245.16" y="438.7" width="1.84" height="11.9" fill="#929292" stroke="#3c3c3c" stroke-width="0.4"/>
<rect x="248.84" y="438.7" width="1.84" height="11.9" fill="#929292" stroke="#3c3c3c" stroke-width="0.4"/>
<rect x="267.24" y="426.8" width="1.84" height="23.8" fill="#929292" stroke="#3c3c3c" stroke-width="0.4"/>
<rect x="270.92" y="438.7" width="1.84" height="11.9" fill="#929292" stroke="#3c3c3c" stroke-width="0.4"/>
<rect x="272.76" y="438.7" width="1.84" height="11.9" fill="#929292" stroke="#3c3c3c" stroke-width="0.4"/>
<rect x="289.32" y="438.7" width="1.84" height="11.9" fill="#929292" stroke="#3c3c3c" stroke-width="0.4"/>
<rect x="305.88" y="426.8" width="1.84" height="23.8" fill="#929292" stroke="#3c3c3c" stroke-width="0.4"/>
<rect x="215.72" y="414.9" width="0.92" height="35.7" fill="#929292"/>
<line x1="215.72" y1="414.9" x2="216.64" y2="414.9" stroke="#3c3c3c" stroke-width="0.45"/>
<rect x="216.64" y="403" width="0.92" height="47.6" fill="#929292"/>
<line x1="216.64" y1="403" x2="217.56" y2="403" stroke="#3c3c3c" stroke-width="0.45"/>
<line x1="200" y1="367.3" x2="200" y2="451.6" stroke="#2a2a2a" stroke-width="0.9"/>
<line x1="195.8" y1="367.3" x2="200" y2="367.3" stroke="#2a2a2a" stroke-width="0.8"/>
<text transform="translate(193.6 369.6) scale(0.85 1)" font-size="6.47" text-anchor="end" fill="#222" stroke="#222" stroke-width="0.1">7</text>
<line x1="195.8" y1="379.2" x2="200" y2="379.2" stroke="#2a2a2a" stroke-width="0.8"/>
<text transform="translate(193.6 381.5) scale(0.85 1)" font-size="6.47" text-anchor="end" fill="#222" stroke="#222" stroke-width="0.1">6</text>
<line x1="195.8" y1="391.1" x2="200" y2="391.1" stroke="#2a2a2a" stroke-width="0.8"/>
<text transform="translate(193.6 393.4) scale(0.85 1)" font-size="6.47" text-anchor="end" fill="#222" stroke="#222" stroke-width="0.1">5</text>
<line x1="195.8" y1="403" x2="200" y2="403" stroke="#2a2a2a" stroke-width="0.8"/>
<text transform="translate(193.6 405.3) scale(0.85 1)" font-size="6.47" text-anchor="end" fill="#222" stroke="#222" stroke-width="0.1">4</text>
<line x1="195.8" y1="414.9" x2="200" y2="414.9" stroke="#2a2a2a" stroke-width="0.8"/>
<text transform="translate(193.6 417.2) scale(0.85 1)" font-size="6.47" text-anchor="end" fill="#222" stroke="#222" stroke-width="0.1">3</text>
<line x1="195.8" y1="426.8" x2="200" y2="426.8" stroke="#2a2a2a" stroke-width="0.8"/>
<text transform="translate(193.6 429.1) scale(0.85 1)" font-size="6.47" text-anchor="end" fill="#222" stroke="#222" stroke-width="0.1">2</text>
<line x1="195.8" y1="438.7" x2="200" y2="438.7" stroke="#2a2a2a" stroke-width="0.8"/>
<text transform="translate(193.6 441) scale(0.85 1)" font-size="6.47" text-anchor="end" fill="#222" stroke="#222" stroke-width="0.1">1</text>
<line x1="195.8" y1="450.6" x2="200" y2="450.6" stroke="#2a2a2a" stroke-width="0.8"/>
<text transform="translate(193.6 452.9) scale(0.85 1)" font-size="6.47" text-anchor="end" fill="#222" stroke="#222" stroke-width="0.1">0</text>
<line x1="199.6" y1="451.2" x2="311.8" y2="451.2" stroke="#2a2a2a" stroke-width="1.3"/>
<line x1="201" y1="451.2" x2="201" y2="455.8" stroke="#2a2a2a" stroke-width="0.75"/>
<text transform="translate(201 464) scale(0.85 1)" font-size="6.47" text-anchor="middle" fill="#222" stroke="#222" stroke-width="0.1">0</text>
<line x1="204.68" y1="451.2" x2="204.68" y2="453.7" stroke="#2a2a2a" stroke-width="0.75"/>
<line x1="208.36" y1="451.2" x2="208.36" y2="453.7" stroke="#2a2a2a" stroke-width="0.75"/>
<line x1="212.04" y1="451.2" x2="212.04" y2="453.7" stroke="#2a2a2a" stroke-width="0.75"/>
<line x1="215.72" y1="451.2" x2="215.72" y2="453.7" stroke="#2a2a2a" stroke-width="0.75"/>
<line x1="219.4" y1="451.2" x2="219.4" y2="455.8" stroke="#2a2a2a" stroke-width="0.75"/>
<text transform="translate(219.4 464) scale(0.85 1)" font-size="6.47" text-anchor="middle" fill="#222" stroke="#222" stroke-width="0.1">10</text>
<line x1="223.08" y1="451.2" x2="223.08" y2="453.7" stroke="#2a2a2a" stroke-width="0.75"/>
<line x1="226.76" y1="451.2" x2="226.76" y2="453.7" stroke="#2a2a2a" stroke-width="0.75"/>
<line x1="230.44" y1="451.2" x2="230.44" y2="453.7" stroke="#2a2a2a" stroke-width="0.75"/>
<line x1="234.12" y1="451.2" x2="234.12" y2="453.7" stroke="#2a2a2a" stroke-width="0.75"/>
<line x1="237.8" y1="451.2" x2="237.8" y2="455.8" stroke="#2a2a2a" stroke-width="0.75"/>
<text transform="translate(237.8 464) scale(0.85 1)" font-size="6.47" text-anchor="middle" fill="#222" stroke="#222" stroke-width="0.1">20</text>
<line x1="241.48" y1="451.2" x2="241.48" y2="453.7" stroke="#2a2a2a" stroke-width="0.75"/>
<line x1="245.16" y1="451.2" x2="245.16" y2="453.7" stroke="#2a2a2a" stroke-width="0.75"/>
<line x1="248.84" y1="451.2" x2="248.84" y2="453.7" stroke="#2a2a2a" stroke-width="0.75"/>
<line x1="252.52" y1="451.2" x2="252.52" y2="453.7" stroke="#2a2a2a" stroke-width="0.75"/>
<line x1="256.2" y1="451.2" x2="256.2" y2="455.8" stroke="#2a2a2a" stroke-width="0.75"/>
<text transform="translate(256.2 464) scale(0.85 1)" font-size="6.47" text-anchor="middle" fill="#222" stroke="#222" stroke-width="0.1">30</text>
<line x1="259.88" y1="451.2" x2="259.88" y2="453.7" stroke="#2a2a2a" stroke-width="0.75"/>
<line x1="263.56" y1="451.2" x2="263.56" y2="453.7" stroke="#2a2a2a" stroke-width="0.75"/>
<line x1="267.24" y1="451.2" x2="267.24" y2="453.7" stroke="#2a2a2a" stroke-width="0.75"/>
<line x1="270.92" y1="451.2" x2="270.92" y2="453.7" stroke="#2a2a2a" stroke-width="0.75"/>
<line x1="274.6" y1="451.2" x2="274.6" y2="455.8" stroke="#2a2a2a" stroke-width="0.75"/>
<text transform="translate(274.6 464) scale(0.85 1)" font-size="6.47" text-anchor="middle" fill="#222" stroke="#222" stroke-width="0.1">40</text>
<line x1="278.28" y1="451.2" x2="278.28" y2="453.7" stroke="#2a2a2a" stroke-width="0.75"/>
<line x1="281.96" y1="451.2" x2="281.96" y2="453.7" stroke="#2a2a2a" stroke-width="0.75"/>
<line x1="285.64" y1="451.2" x2="285.64" y2="453.7" stroke="#2a2a2a" stroke-width="0.75"/>
<line x1="289.32" y1="451.2" x2="289.32" y2="453.7" stroke="#2a2a2a" stroke-width="0.75"/>
<line x1="293" y1="451.2" x2="293" y2="455.8" stroke="#2a2a2a" stroke-width="0.75"/>
<text transform="translate(293 464) scale(0.85 1)" font-size="6.47" text-anchor="middle" fill="#222" stroke="#222" stroke-width="0.1">50</text>
<line x1="296.68" y1="451.2" x2="296.68" y2="453.7" stroke="#2a2a2a" stroke-width="0.75"/>
<line x1="300.36" y1="451.2" x2="300.36" y2="453.7" stroke="#2a2a2a" stroke-width="0.75"/>
<line x1="304.04" y1="451.2" x2="304.04" y2="453.7" stroke="#2a2a2a" stroke-width="0.75"/>
<line x1="307.72" y1="451.2" x2="307.72" y2="453.7" stroke="#2a2a2a" stroke-width="0.75"/>
<line x1="311.4" y1="451.2" x2="311.4" y2="455.8" stroke="#2a2a2a" stroke-width="0.75"/>
<text transform="translate(311.4 464) scale(0.85 1)" font-size="6.47" text-anchor="middle" fill="#222" stroke="#222" stroke-width="0.1">60</text>
<text x="256.5" y="471.5" font-size="6.1" text-anchor="middle" fill="#222" stroke="#222" stroke-width="0.1">Mass (g)</text>
<text transform="translate(181.9 410.1) rotate(-90)" font-size="6.1" text-anchor="middle" fill="#222" stroke="#222" stroke-width="0.1">Frequency</text>
<text x="182.1" y="373.1" font-size="7.8" text-anchor="start" fill="#1c1c1c" stroke="#1c1c1c" stroke-width="0.3">h</text>
<text transform="translate(297.8 376.9) scale(0.92 1)" font-size="5.82" text-anchor="middle" fill="#222" stroke="#222" stroke-width="0.1">n = 53</text>
</svg>
</body>
</html>
